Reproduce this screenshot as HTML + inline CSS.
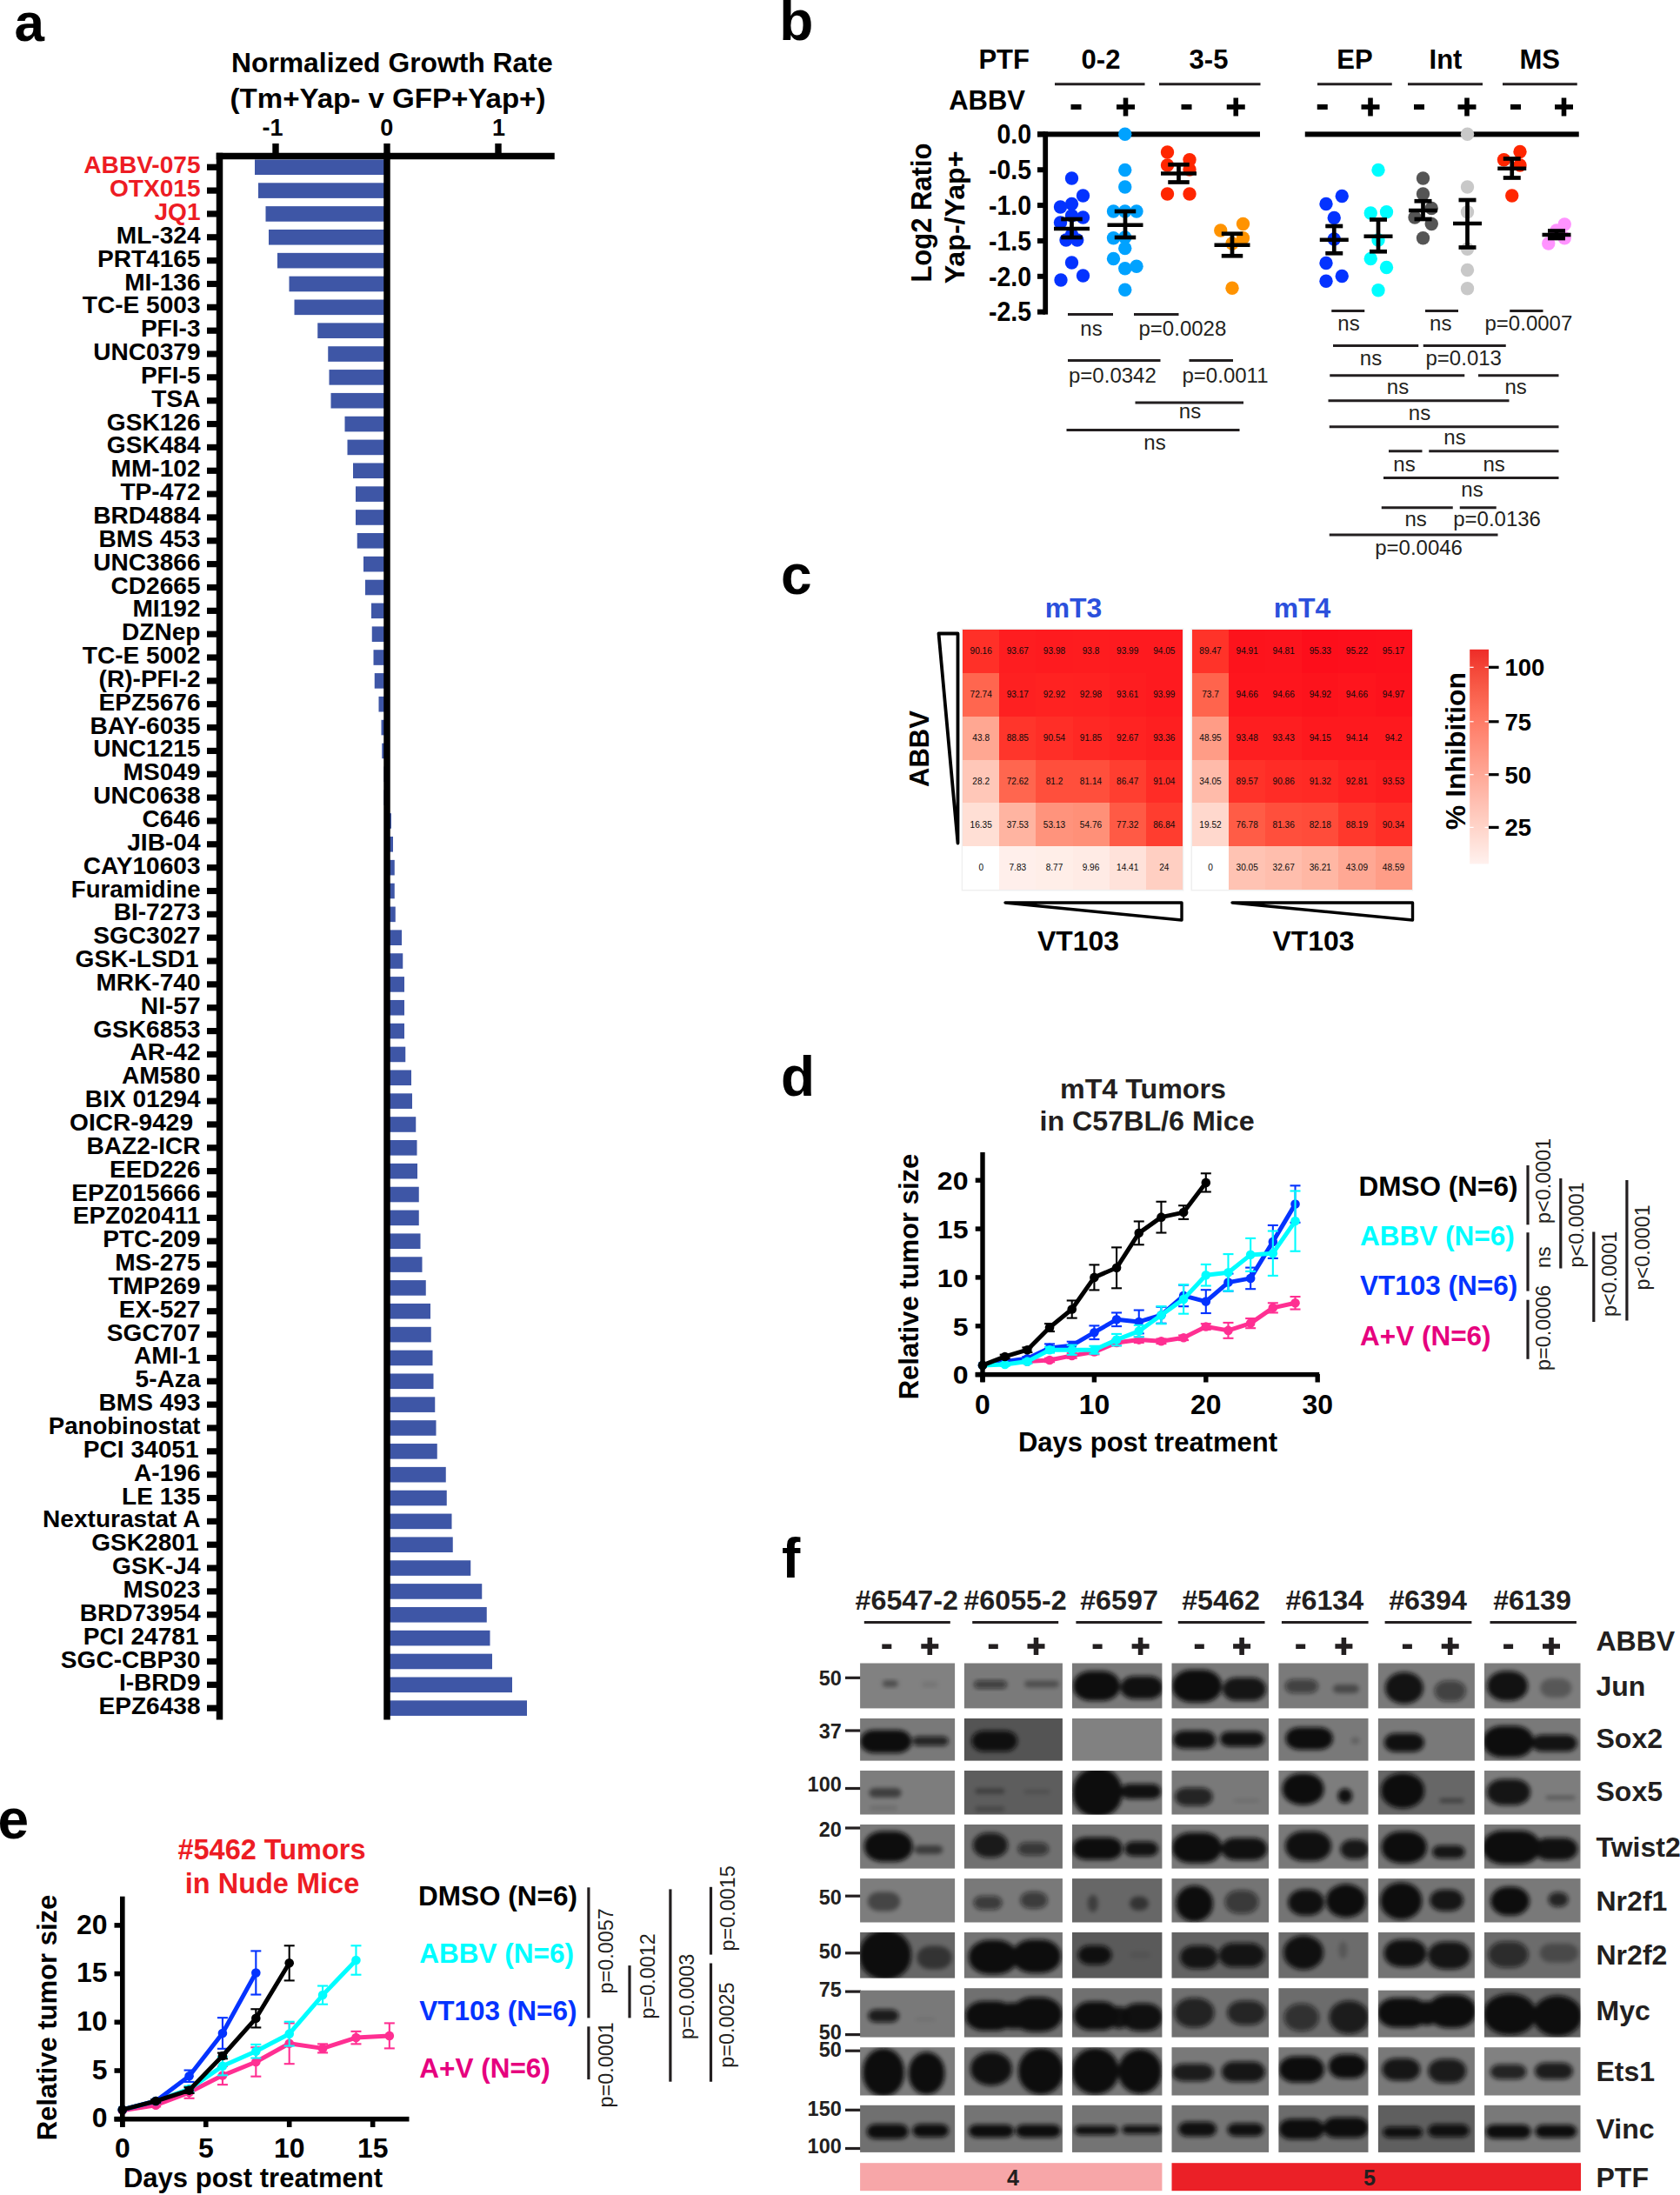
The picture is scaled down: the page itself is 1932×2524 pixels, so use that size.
<!DOCTYPE html>
<html><head><meta charset="utf-8"><title>Figure</title>
<style>html,body{margin:0;padding:0;background:#fff}svg{display:block}text{font-family:'Liberation Sans', Arial, Helvetica, sans-serif}</style>
</head><body>
<svg width="1932" height="2524" viewBox="0 0 1932 2524">
<rect width="1932" height="2524" fill="#fff"/>
<text x="16.5" y="47.0" font-size="62" font-weight="bold">a</text>
<text font-size="31.5" text-anchor="middle" font-weight="bold" transform="translate(450.8 83.3) scale(1.011,1)">Normalized Growth Rate</text>
<text font-size="31.5" text-anchor="middle" font-weight="bold" transform="translate(446.0 124.3) scale(1.05,1)">(Tm+Yap- v GFP+Yap+)</text>
<text x="313.5" y="155.9" font-size="27" text-anchor="middle" font-weight="bold">-1</text>
<text x="444.8" y="155.9" font-size="27" text-anchor="middle" font-weight="bold">0</text>
<text x="573.5" y="155.9" font-size="27" text-anchor="middle" font-weight="bold">1</text>
<rect x="293.00" y="183.45" width="152.00" height="17.60" fill="#3E56A6"/>
<rect x="238.00" y="188.65" width="12.00" height="7.20" fill="#000"/>
<text font-size="27" text-anchor="end" font-weight="bold" fill="#ED1C24" transform="translate(230.5 199.2) scale(1.04,1)">ABBV-075</text>
<rect x="297.00" y="210.30" width="148.00" height="17.60" fill="#3E56A6"/>
<rect x="238.00" y="215.50" width="12.00" height="7.20" fill="#000"/>
<text font-size="27" text-anchor="end" font-weight="bold" fill="#ED1C24" transform="translate(230.5 226.1) scale(1.04,1)">OTX015</text>
<rect x="305.50" y="237.14" width="139.50" height="17.60" fill="#3E56A6"/>
<rect x="238.00" y="242.34" width="12.00" height="7.20" fill="#000"/>
<text font-size="27" text-anchor="end" font-weight="bold" fill="#ED1C24" transform="translate(230.5 252.9) scale(1.04,1)">JQ1</text>
<rect x="309.00" y="263.99" width="136.00" height="17.60" fill="#3E56A6"/>
<rect x="238.00" y="269.19" width="12.00" height="7.20" fill="#000"/>
<text font-size="27" text-anchor="end" font-weight="bold" transform="translate(230.5 279.8) scale(1.04,1)">ML-324</text>
<rect x="319.00" y="290.84" width="126.00" height="17.60" fill="#3E56A6"/>
<rect x="238.00" y="296.04" width="12.00" height="7.20" fill="#000"/>
<text font-size="27" text-anchor="end" font-weight="bold" transform="translate(230.5 306.6) scale(1.04,1)">PRT4165</text>
<rect x="332.50" y="317.69" width="112.50" height="17.60" fill="#3E56A6"/>
<rect x="238.00" y="322.88" width="12.00" height="7.20" fill="#000"/>
<text font-size="27" text-anchor="end" font-weight="bold" transform="translate(230.5 333.5) scale(1.04,1)">MI-136</text>
<rect x="338.50" y="344.53" width="106.50" height="17.60" fill="#3E56A6"/>
<rect x="238.00" y="349.73" width="12.00" height="7.20" fill="#000"/>
<text font-size="27" text-anchor="end" font-weight="bold" transform="translate(230.5 360.3) scale(1.04,1)">TC-E 5003</text>
<rect x="365.25" y="371.38" width="79.75" height="17.60" fill="#3E56A6"/>
<rect x="238.00" y="376.58" width="12.00" height="7.20" fill="#000"/>
<text font-size="27" text-anchor="end" font-weight="bold" transform="translate(230.5 387.2) scale(1.04,1)">PFI-3</text>
<rect x="377.25" y="398.23" width="67.75" height="17.60" fill="#3E56A6"/>
<rect x="238.00" y="403.43" width="12.00" height="7.20" fill="#000"/>
<text font-size="27" text-anchor="end" font-weight="bold" transform="translate(230.5 414.0) scale(1.04,1)">UNC0379</text>
<rect x="378.50" y="425.07" width="66.50" height="17.60" fill="#3E56A6"/>
<rect x="238.00" y="430.27" width="12.00" height="7.20" fill="#000"/>
<text font-size="27" text-anchor="end" font-weight="bold" transform="translate(230.5 440.9) scale(1.04,1)">PFI-5</text>
<rect x="380.50" y="451.92" width="64.50" height="17.60" fill="#3E56A6"/>
<rect x="238.00" y="457.12" width="12.00" height="7.20" fill="#000"/>
<text font-size="27" text-anchor="end" font-weight="bold" transform="translate(230.5 467.7) scale(1.04,1)">TSA</text>
<rect x="396.50" y="478.77" width="48.50" height="17.60" fill="#3E56A6"/>
<rect x="238.00" y="483.97" width="12.00" height="7.20" fill="#000"/>
<text font-size="27" text-anchor="end" font-weight="bold" transform="translate(230.5 494.6) scale(1.04,1)">GSK126</text>
<rect x="399.50" y="505.61" width="45.50" height="17.60" fill="#3E56A6"/>
<rect x="238.00" y="510.81" width="12.00" height="7.20" fill="#000"/>
<text font-size="27" text-anchor="end" font-weight="bold" transform="translate(230.5 521.4) scale(1.04,1)">GSK484</text>
<rect x="406.00" y="532.46" width="39.00" height="17.60" fill="#3E56A6"/>
<rect x="238.00" y="537.66" width="12.00" height="7.20" fill="#000"/>
<text font-size="27" text-anchor="end" font-weight="bold" transform="translate(230.5 548.3) scale(1.04,1)">MM-102</text>
<rect x="409.00" y="559.31" width="36.00" height="17.60" fill="#3E56A6"/>
<rect x="238.00" y="564.51" width="12.00" height="7.20" fill="#000"/>
<text font-size="27" text-anchor="end" font-weight="bold" transform="translate(230.5 575.1) scale(1.04,1)">TP-472</text>
<rect x="409.00" y="586.16" width="36.00" height="17.60" fill="#3E56A6"/>
<rect x="238.00" y="591.36" width="12.00" height="7.20" fill="#000"/>
<text font-size="27" text-anchor="end" font-weight="bold" transform="translate(230.5 602.0) scale(1.04,1)">BRD4884</text>
<rect x="410.75" y="613.00" width="34.25" height="17.60" fill="#3E56A6"/>
<rect x="238.00" y="618.20" width="12.00" height="7.20" fill="#000"/>
<text font-size="27" text-anchor="end" font-weight="bold" transform="translate(230.5 628.8) scale(1.04,1)">BMS 453</text>
<rect x="418.00" y="639.85" width="27.00" height="17.60" fill="#3E56A6"/>
<rect x="238.00" y="645.05" width="12.00" height="7.20" fill="#000"/>
<text font-size="27" text-anchor="end" font-weight="bold" transform="translate(230.5 655.6) scale(1.04,1)">UNC3866</text>
<rect x="420.00" y="666.70" width="25.00" height="17.60" fill="#3E56A6"/>
<rect x="238.00" y="671.90" width="12.00" height="7.20" fill="#000"/>
<text font-size="27" text-anchor="end" font-weight="bold" transform="translate(230.5 682.5) scale(1.04,1)">CD2665</text>
<rect x="427.00" y="693.54" width="18.00" height="17.60" fill="#3E56A6"/>
<rect x="238.00" y="698.74" width="12.00" height="7.20" fill="#000"/>
<text font-size="27" text-anchor="end" font-weight="bold" transform="translate(230.5 709.3) scale(1.04,1)">MI192</text>
<rect x="427.75" y="720.39" width="17.25" height="17.60" fill="#3E56A6"/>
<rect x="238.00" y="725.59" width="12.00" height="7.20" fill="#000"/>
<text font-size="27" text-anchor="end" font-weight="bold" transform="translate(230.5 736.2) scale(1.04,1)">DZNep</text>
<rect x="429.50" y="747.24" width="15.50" height="17.60" fill="#3E56A6"/>
<rect x="238.00" y="752.44" width="12.00" height="7.20" fill="#000"/>
<text font-size="27" text-anchor="end" font-weight="bold" transform="translate(230.5 763.0) scale(1.04,1)">TC-E 5002</text>
<rect x="430.75" y="774.08" width="14.25" height="17.60" fill="#3E56A6"/>
<rect x="238.00" y="779.28" width="12.00" height="7.20" fill="#000"/>
<text font-size="27" text-anchor="end" font-weight="bold" transform="translate(230.5 789.9) scale(1.04,1)">(R)-PFI-2</text>
<rect x="435.50" y="800.93" width="9.50" height="17.60" fill="#3E56A6"/>
<rect x="238.00" y="806.13" width="12.00" height="7.20" fill="#000"/>
<text font-size="27" text-anchor="end" font-weight="bold" transform="translate(230.5 816.7) scale(1.04,1)">EPZ5676</text>
<rect x="438.50" y="827.78" width="6.50" height="17.60" fill="#3E56A6"/>
<rect x="238.00" y="832.98" width="12.00" height="7.20" fill="#000"/>
<text font-size="27" text-anchor="end" font-weight="bold" transform="translate(230.5 843.6) scale(1.04,1)">BAY-6035</text>
<rect x="439.25" y="854.63" width="5.75" height="17.60" fill="#3E56A6"/>
<rect x="238.00" y="859.83" width="12.00" height="7.20" fill="#000"/>
<text font-size="27" text-anchor="end" font-weight="bold" transform="translate(230.5 870.4) scale(1.04,1)">UNC1215</text>
<rect x="441.50" y="881.47" width="3.50" height="17.60" fill="#3E56A6"/>
<rect x="238.00" y="886.67" width="12.00" height="7.20" fill="#000"/>
<text font-size="27" text-anchor="end" font-weight="bold" transform="translate(230.5 897.3) scale(1.04,1)">MS049</text>
<rect x="441.50" y="908.32" width="3.50" height="17.60" fill="#3E56A6"/>
<rect x="238.00" y="913.52" width="12.00" height="7.20" fill="#000"/>
<text font-size="27" text-anchor="end" font-weight="bold" transform="translate(230.5 924.1) scale(1.04,1)">UNC0638</text>
<rect x="445.00" y="935.17" width="5.00" height="17.60" fill="#3E56A6"/>
<rect x="238.00" y="940.37" width="12.00" height="7.20" fill="#000"/>
<text font-size="27" text-anchor="end" font-weight="bold" transform="translate(230.5 951.0) scale(1.04,1)">C646</text>
<rect x="445.00" y="962.01" width="7.00" height="17.60" fill="#3E56A6"/>
<rect x="238.00" y="967.21" width="12.00" height="7.20" fill="#000"/>
<text font-size="27" text-anchor="end" font-weight="bold" transform="translate(230.5 977.8) scale(1.04,1)">JIB-04</text>
<rect x="445.00" y="988.86" width="8.75" height="17.60" fill="#3E56A6"/>
<rect x="238.00" y="994.06" width="12.00" height="7.20" fill="#000"/>
<text font-size="27" text-anchor="end" font-weight="bold" transform="translate(230.5 1004.7) scale(1.04,1)">CAY10603</text>
<rect x="445.00" y="1015.71" width="8.75" height="17.60" fill="#3E56A6"/>
<rect x="238.00" y="1020.91" width="12.00" height="7.20" fill="#000"/>
<text font-size="27" text-anchor="end" font-weight="bold" transform="translate(230.5 1031.5) scale(1.022,1)">Furamidine</text>
<rect x="445.00" y="1042.55" width="9.75" height="17.60" fill="#3E56A6"/>
<rect x="238.00" y="1047.75" width="12.00" height="7.20" fill="#000"/>
<text font-size="27" text-anchor="end" font-weight="bold" transform="translate(230.5 1058.4) scale(1.04,1)">BI-7273</text>
<rect x="445.00" y="1069.40" width="17.00" height="17.60" fill="#3E56A6"/>
<rect x="238.00" y="1074.60" width="12.00" height="7.20" fill="#000"/>
<text font-size="27" text-anchor="end" font-weight="bold" transform="translate(230.5 1085.2) scale(1.04,1)">SGC3027</text>
<rect x="445.00" y="1096.25" width="18.25" height="17.60" fill="#3E56A6"/>
<rect x="238.00" y="1101.45" width="12.00" height="7.20" fill="#000"/>
<text font-size="27" text-anchor="end" font-weight="bold" transform="translate(228.5 1112.0) scale(1.04,1)">GSK-LSD1</text>
<rect x="445.00" y="1123.10" width="20.00" height="17.60" fill="#3E56A6"/>
<rect x="238.00" y="1128.30" width="12.00" height="7.20" fill="#000"/>
<text font-size="27" text-anchor="end" font-weight="bold" transform="translate(230.5 1138.9) scale(1.04,1)">MRK-740</text>
<rect x="445.00" y="1149.94" width="20.00" height="17.60" fill="#3E56A6"/>
<rect x="238.00" y="1155.14" width="12.00" height="7.20" fill="#000"/>
<text font-size="27" text-anchor="end" font-weight="bold" transform="translate(230.5 1165.7) scale(1.04,1)">NI-57</text>
<rect x="445.00" y="1176.79" width="20.00" height="17.60" fill="#3E56A6"/>
<rect x="238.00" y="1181.99" width="12.00" height="7.20" fill="#000"/>
<text font-size="27" text-anchor="end" font-weight="bold" transform="translate(230.5 1192.6) scale(1.04,1)">GSK6853</text>
<rect x="445.00" y="1203.64" width="21.25" height="17.60" fill="#3E56A6"/>
<rect x="238.00" y="1208.84" width="12.00" height="7.20" fill="#000"/>
<text font-size="27" text-anchor="end" font-weight="bold" transform="translate(230.5 1219.4) scale(1.04,1)">AR-42</text>
<rect x="445.00" y="1230.48" width="28.00" height="17.60" fill="#3E56A6"/>
<rect x="238.00" y="1235.68" width="12.00" height="7.20" fill="#000"/>
<text font-size="27" text-anchor="end" font-weight="bold" transform="translate(230.5 1246.3) scale(1.04,1)">AM580</text>
<rect x="445.00" y="1257.33" width="29.00" height="17.60" fill="#3E56A6"/>
<rect x="238.00" y="1262.53" width="12.00" height="7.20" fill="#000"/>
<text font-size="27" text-anchor="end" font-weight="bold" transform="translate(230.5 1273.1) scale(1.04,1)">BIX 01294</text>
<rect x="445.00" y="1284.18" width="33.25" height="17.60" fill="#3E56A6"/>
<rect x="238.00" y="1289.38" width="12.00" height="7.20" fill="#000"/>
<text font-size="27" text-anchor="end" font-weight="bold" transform="translate(222.0 1300.0) scale(1.04,1)">OICR-9429</text>
<rect x="445.00" y="1311.02" width="34.50" height="17.60" fill="#3E56A6"/>
<rect x="238.00" y="1316.22" width="12.00" height="7.20" fill="#000"/>
<text font-size="27" text-anchor="end" font-weight="bold" transform="translate(230.5 1326.8) scale(1.04,1)">BAZ2-ICR</text>
<rect x="445.00" y="1337.87" width="35.00" height="17.60" fill="#3E56A6"/>
<rect x="238.00" y="1343.07" width="12.00" height="7.20" fill="#000"/>
<text font-size="27" text-anchor="end" font-weight="bold" transform="translate(230.5 1353.7) scale(1.04,1)">EED226</text>
<rect x="445.00" y="1364.72" width="36.75" height="17.60" fill="#3E56A6"/>
<rect x="238.00" y="1369.92" width="12.00" height="7.20" fill="#000"/>
<text font-size="27" text-anchor="end" font-weight="bold" transform="translate(230.5 1380.5) scale(1.04,1)">EPZ015666</text>
<rect x="445.00" y="1391.57" width="36.75" height="17.60" fill="#3E56A6"/>
<rect x="238.00" y="1396.77" width="12.00" height="7.20" fill="#000"/>
<text font-size="27" text-anchor="end" font-weight="bold" transform="translate(230.5 1407.4) scale(1.04,1)">EPZ020411</text>
<rect x="445.00" y="1418.41" width="38.50" height="17.60" fill="#3E56A6"/>
<rect x="238.00" y="1423.61" width="12.00" height="7.20" fill="#000"/>
<text font-size="27" text-anchor="end" font-weight="bold" transform="translate(230.5 1434.2) scale(1.04,1)">PTC-209</text>
<rect x="445.00" y="1445.26" width="40.50" height="17.60" fill="#3E56A6"/>
<rect x="238.00" y="1450.46" width="12.00" height="7.20" fill="#000"/>
<text font-size="27" text-anchor="end" font-weight="bold" transform="translate(230.5 1461.1) scale(1.04,1)">MS-275</text>
<rect x="445.00" y="1472.11" width="44.75" height="17.60" fill="#3E56A6"/>
<rect x="238.00" y="1477.31" width="12.00" height="7.20" fill="#000"/>
<text font-size="27" text-anchor="end" font-weight="bold" transform="translate(230.5 1487.9) scale(1.04,1)">TMP269</text>
<rect x="445.00" y="1498.95" width="50.00" height="17.60" fill="#3E56A6"/>
<rect x="238.00" y="1504.15" width="12.00" height="7.20" fill="#000"/>
<text font-size="27" text-anchor="end" font-weight="bold" transform="translate(230.5 1514.8) scale(1.04,1)">EX-527</text>
<rect x="445.00" y="1525.80" width="50.75" height="17.60" fill="#3E56A6"/>
<rect x="238.00" y="1531.00" width="12.00" height="7.20" fill="#000"/>
<text font-size="27" text-anchor="end" font-weight="bold" transform="translate(230.5 1541.6) scale(1.04,1)">SGC707</text>
<rect x="445.00" y="1552.65" width="52.50" height="17.60" fill="#3E56A6"/>
<rect x="238.00" y="1557.85" width="12.00" height="7.20" fill="#000"/>
<text font-size="27" text-anchor="end" font-weight="bold" transform="translate(230.5 1568.4) scale(1.04,1)">AMI-1</text>
<rect x="445.00" y="1579.49" width="53.50" height="17.60" fill="#3E56A6"/>
<rect x="238.00" y="1584.69" width="12.00" height="7.20" fill="#000"/>
<text font-size="27" text-anchor="end" font-weight="bold" transform="translate(230.5 1595.3) scale(1.04,1)">5-Aza</text>
<rect x="445.00" y="1606.34" width="55.25" height="17.60" fill="#3E56A6"/>
<rect x="238.00" y="1611.54" width="12.00" height="7.20" fill="#000"/>
<text font-size="27" text-anchor="end" font-weight="bold" transform="translate(230.5 1622.1) scale(1.04,1)">BMS 493</text>
<rect x="445.00" y="1633.19" width="56.50" height="17.60" fill="#3E56A6"/>
<rect x="238.00" y="1638.39" width="12.00" height="7.20" fill="#000"/>
<text font-size="27" text-anchor="end" font-weight="bold" transform="translate(230.5 1649.0) scale(1.022,1)">Panobinostat</text>
<rect x="445.00" y="1660.04" width="57.75" height="17.60" fill="#3E56A6"/>
<rect x="238.00" y="1665.24" width="12.00" height="7.20" fill="#000"/>
<text font-size="27" text-anchor="end" font-weight="bold" transform="translate(228.5 1675.8) scale(1.04,1)">PCI 34051</text>
<rect x="445.00" y="1686.88" width="67.75" height="17.60" fill="#3E56A6"/>
<rect x="238.00" y="1692.08" width="12.00" height="7.20" fill="#000"/>
<text font-size="27" text-anchor="end" font-weight="bold" transform="translate(230.5 1702.7) scale(1.04,1)">A-196</text>
<rect x="445.00" y="1713.73" width="68.75" height="17.60" fill="#3E56A6"/>
<rect x="238.00" y="1718.93" width="12.00" height="7.20" fill="#000"/>
<text font-size="27" text-anchor="end" font-weight="bold" transform="translate(230.5 1729.5) scale(1.04,1)">LE 135</text>
<rect x="445.00" y="1740.58" width="74.50" height="17.60" fill="#3E56A6"/>
<rect x="238.00" y="1745.78" width="12.00" height="7.20" fill="#000"/>
<text font-size="27" text-anchor="end" font-weight="bold" transform="translate(230.5 1756.4) scale(1.04,1)">Nexturastat A</text>
<rect x="445.00" y="1767.42" width="75.75" height="17.60" fill="#3E56A6"/>
<rect x="238.00" y="1772.62" width="12.00" height="7.20" fill="#000"/>
<text font-size="27" text-anchor="end" font-weight="bold" transform="translate(228.5 1783.2) scale(1.04,1)">GSK2801</text>
<rect x="445.00" y="1794.27" width="96.25" height="17.60" fill="#3E56A6"/>
<rect x="238.00" y="1799.47" width="12.00" height="7.20" fill="#000"/>
<text font-size="27" text-anchor="end" font-weight="bold" transform="translate(230.5 1810.1) scale(1.04,1)">GSK-J4</text>
<rect x="445.00" y="1821.12" width="109.25" height="17.60" fill="#3E56A6"/>
<rect x="238.00" y="1826.32" width="12.00" height="7.20" fill="#000"/>
<text font-size="27" text-anchor="end" font-weight="bold" transform="translate(230.5 1836.9) scale(1.04,1)">MS023</text>
<rect x="445.00" y="1847.96" width="114.75" height="17.60" fill="#3E56A6"/>
<rect x="238.00" y="1853.16" width="12.00" height="7.20" fill="#000"/>
<text font-size="27" text-anchor="end" font-weight="bold" transform="translate(230.5 1863.8) scale(1.04,1)">BRD73954</text>
<rect x="445.00" y="1874.81" width="118.50" height="17.60" fill="#3E56A6"/>
<rect x="238.00" y="1880.01" width="12.00" height="7.20" fill="#000"/>
<text font-size="27" text-anchor="end" font-weight="bold" transform="translate(228.5 1890.6) scale(1.04,1)">PCI 24781</text>
<rect x="445.00" y="1901.66" width="121.00" height="17.60" fill="#3E56A6"/>
<rect x="238.00" y="1906.86" width="12.00" height="7.20" fill="#000"/>
<text font-size="27" text-anchor="end" font-weight="bold" transform="translate(230.5 1917.5) scale(1.04,1)">SGC-CBP30</text>
<rect x="445.00" y="1928.51" width="144.00" height="17.60" fill="#3E56A6"/>
<rect x="238.00" y="1933.71" width="12.00" height="7.20" fill="#000"/>
<text font-size="27" text-anchor="end" font-weight="bold" transform="translate(230.5 1944.3) scale(1.04,1)">I-BRD9</text>
<rect x="445.00" y="1955.35" width="161.00" height="17.60" fill="#3E56A6"/>
<rect x="238.00" y="1960.55" width="12.00" height="7.20" fill="#000"/>
<text font-size="27" text-anchor="end" font-weight="bold" transform="translate(230.5 1971.2) scale(1.04,1)">EPZ6438</text>
<rect x="248.75" y="175.75" width="389.00" height="7.50" fill="#000"/>
<rect x="248.75" y="175.75" width="7.50" height="1801.75" fill="#000"/>
<rect x="441.25" y="175.75" width="7.50" height="1801.75" fill="#000"/>
<rect x="313.30" y="165.00" width="7.40" height="12.00" fill="#000"/>
<rect x="441.30" y="165.00" width="7.40" height="12.00" fill="#000"/>
<rect x="569.30" y="165.00" width="7.40" height="12.00" fill="#000"/>
<text x="896.3" y="46.3" font-size="64" font-weight="bold">b</text>
<text x="1184.0" y="78.5" font-size="31" text-anchor="end" font-weight="bold">PTF</text>
<text x="1179.0" y="126.0" font-size="31" text-anchor="end" font-weight="bold">ABBV</text>
<text x="1266.0" y="78.5" font-size="31" text-anchor="middle" font-weight="bold">0-2</text>
<text x="1390.0" y="78.5" font-size="31" text-anchor="middle" font-weight="bold">3-5</text>
<line x1="1213.00" y1="96.75" x2="1316.50" y2="96.75" stroke="#231F20" stroke-width="3"/>
<line x1="1333.00" y1="96.75" x2="1449.50" y2="96.75" stroke="#231F20" stroke-width="3"/>
<rect x="1231.50" y="120.00" width="12.00" height="6.00" fill="#000"/>
<rect x="1358.50" y="120.00" width="12.00" height="6.00" fill="#000"/>
<rect x="1284.00" y="120.20" width="21.00" height="5.60" fill="#000"/><rect x="1291.70" y="112.50" width="5.60" height="21.00" fill="#000"/>
<rect x="1410.75" y="120.20" width="21.00" height="5.60" fill="#000"/><rect x="1418.45" y="112.50" width="5.60" height="21.00" fill="#000"/>
<text x="1558.0" y="78.5" font-size="31" text-anchor="middle" font-weight="bold">EP</text>
<line x1="1515.00" y1="96.75" x2="1600.75" y2="96.75" stroke="#231F20" stroke-width="3"/>
<text x="1662.5" y="78.5" font-size="31" text-anchor="middle" font-weight="bold">Int</text>
<line x1="1619.00" y1="96.75" x2="1705.00" y2="96.75" stroke="#231F20" stroke-width="3"/>
<text x="1770.8" y="78.5" font-size="31" text-anchor="middle" font-weight="bold">MS</text>
<line x1="1728.00" y1="96.75" x2="1813.75" y2="96.75" stroke="#231F20" stroke-width="3"/>
<rect x="1514.75" y="120.00" width="12.00" height="6.00" fill="#000"/>
<rect x="1626.00" y="120.00" width="12.00" height="6.00" fill="#000"/>
<rect x="1737.00" y="120.00" width="12.00" height="6.00" fill="#000"/>
<rect x="1565.50" y="120.20" width="21.00" height="5.60" fill="#000"/><rect x="1573.20" y="112.50" width="5.60" height="21.00" fill="#000"/>
<rect x="1676.50" y="120.20" width="21.00" height="5.60" fill="#000"/><rect x="1684.20" y="112.50" width="5.60" height="21.00" fill="#000"/>
<rect x="1788.00" y="120.20" width="21.00" height="5.60" fill="#000"/><rect x="1795.70" y="112.50" width="5.60" height="21.00" fill="#000"/>
<text font-size="32.6" text-anchor="middle" font-weight="bold" transform="translate(1070.5 244.6) rotate(-90) scale(0.95,1)">Log2 Ratio</text>
<text font-size="32" text-anchor="middle" font-weight="bold" transform="translate(1108.6 249.9) rotate(-90) scale(1.005,1)">Yap-/Yap+</text>
<text font-size="31.5" text-anchor="end" font-weight="bold" transform="translate(1186.0 165.2) scale(0.905,1)">0.0</text>
<rect x="1193.00" y="151.40" width="9.00" height="6.00" fill="#000"/>
<text font-size="31.5" text-anchor="end" font-weight="bold" transform="translate(1186.0 206.1) scale(0.905,1)">-0.5</text>
<rect x="1193.00" y="192.25" width="9.00" height="6.00" fill="#000"/>
<text font-size="31.5" text-anchor="end" font-weight="bold" transform="translate(1186.0 246.9) scale(0.905,1)">-1.0</text>
<rect x="1193.00" y="233.10" width="9.00" height="6.00" fill="#000"/>
<text font-size="31.5" text-anchor="end" font-weight="bold" transform="translate(1186.0 287.8) scale(0.905,1)">-1.5</text>
<rect x="1193.00" y="273.95" width="9.00" height="6.00" fill="#000"/>
<text font-size="31.5" text-anchor="end" font-weight="bold" transform="translate(1186.0 328.6) scale(0.905,1)">-2.0</text>
<rect x="1193.00" y="314.80" width="9.00" height="6.00" fill="#000"/>
<text font-size="31.5" text-anchor="end" font-weight="bold" transform="translate(1186.0 369.4) scale(0.905,1)">-2.5</text>
<rect x="1193.00" y="355.65" width="9.00" height="6.00" fill="#000"/>
<rect x="1193.00" y="151.40" width="256.00" height="6.00" fill="#000"/>
<rect x="1199.30" y="151.40" width="5.80" height="210.20" fill="#000"/>
<circle cx="1232.50" cy="205.00" r="7.7" fill="#0433FF"/>
<circle cx="1245.50" cy="225.00" r="7.7" fill="#0433FF"/>
<circle cx="1232.50" cy="234.50" r="7.7" fill="#0433FF"/>
<circle cx="1219.50" cy="238.00" r="7.7" fill="#0433FF"/>
<circle cx="1245.50" cy="250.00" r="7.7" fill="#0433FF"/>
<circle cx="1232.50" cy="248.00" r="7.7" fill="#0433FF"/>
<circle cx="1219.50" cy="256.00" r="7.7" fill="#0433FF"/>
<circle cx="1232.50" cy="270.00" r="7.7" fill="#0433FF"/>
<circle cx="1226.00" cy="276.00" r="7.7" fill="#0433FF"/>
<circle cx="1238.75" cy="276.00" r="7.7" fill="#0433FF"/>
<circle cx="1232.50" cy="302.00" r="7.7" fill="#0433FF"/>
<circle cx="1245.50" cy="317.00" r="7.7" fill="#0433FF"/>
<circle cx="1220.00" cy="322.00" r="7.7" fill="#0433FF"/>
<circle cx="1293.75" cy="154.25" r="7.7" fill="#00A2FF"/>
<circle cx="1293.75" cy="195.50" r="7.7" fill="#00A2FF"/>
<circle cx="1293.75" cy="215.00" r="7.7" fill="#00A2FF"/>
<circle cx="1280.50" cy="243.00" r="7.7" fill="#00A2FF"/>
<circle cx="1307.00" cy="243.00" r="7.7" fill="#00A2FF"/>
<circle cx="1293.75" cy="243.00" r="7.7" fill="#00A2FF"/>
<circle cx="1280.50" cy="273.75" r="7.7" fill="#00A2FF"/>
<circle cx="1293.75" cy="273.00" r="7.7" fill="#00A2FF"/>
<circle cx="1293.75" cy="285.50" r="7.7" fill="#00A2FF"/>
<circle cx="1280.50" cy="297.50" r="7.7" fill="#00A2FF"/>
<circle cx="1307.00" cy="306.25" r="7.7" fill="#00A2FF"/>
<circle cx="1293.75" cy="308.75" r="7.7" fill="#00A2FF"/>
<circle cx="1293.75" cy="333.25" r="7.7" fill="#00A2FF"/>
<circle cx="1342.50" cy="175.00" r="7.7" fill="#FF2600"/>
<circle cx="1368.00" cy="183.75" r="7.7" fill="#FF2600"/>
<circle cx="1342.50" cy="190.00" r="7.7" fill="#FF2600"/>
<circle cx="1368.00" cy="195.00" r="7.7" fill="#FF2600"/>
<circle cx="1342.50" cy="223.00" r="7.7" fill="#FF2600"/>
<circle cx="1368.00" cy="223.00" r="7.7" fill="#FF2600"/>
<circle cx="1429.50" cy="257.50" r="7.7" fill="#FF9300"/>
<circle cx="1403.75" cy="265.00" r="7.7" fill="#FF9300"/>
<circle cx="1429.50" cy="273.75" r="7.7" fill="#FF9300"/>
<circle cx="1417.00" cy="280.00" r="7.7" fill="#FF9300"/>
<circle cx="1417.00" cy="331.25" r="7.7" fill="#FF9300"/>
<line x1="1212.00" y1="263.00" x2="1253.00" y2="263.00" stroke="#000" stroke-width="4.7"/>
<line x1="1232.50" y1="252.00" x2="1232.50" y2="273.00" stroke="#000" stroke-width="4.7"/>
<line x1="1220.25" y1="252.00" x2="1244.75" y2="252.00" stroke="#000" stroke-width="4.7"/>
<line x1="1220.25" y1="273.00" x2="1244.75" y2="273.00" stroke="#000" stroke-width="4.7"/>
<line x1="1273.50" y1="258.75" x2="1314.50" y2="258.75" stroke="#000" stroke-width="4.7"/>
<line x1="1294.00" y1="243.00" x2="1294.00" y2="273.00" stroke="#000" stroke-width="4.7"/>
<line x1="1281.75" y1="243.00" x2="1306.25" y2="243.00" stroke="#000" stroke-width="4.7"/>
<line x1="1281.75" y1="273.00" x2="1306.25" y2="273.00" stroke="#000" stroke-width="4.7"/>
<line x1="1335.00" y1="199.50" x2="1376.00" y2="199.50" stroke="#000" stroke-width="4.7"/>
<line x1="1355.50" y1="189.25" x2="1355.50" y2="209.50" stroke="#000" stroke-width="4.7"/>
<line x1="1343.25" y1="189.25" x2="1367.75" y2="189.25" stroke="#000" stroke-width="4.7"/>
<line x1="1343.25" y1="209.50" x2="1367.75" y2="209.50" stroke="#000" stroke-width="4.7"/>
<line x1="1396.50" y1="281.75" x2="1437.50" y2="281.75" stroke="#000" stroke-width="4.7"/>
<line x1="1417.00" y1="268.75" x2="1417.00" y2="294.25" stroke="#000" stroke-width="4.7"/>
<line x1="1404.75" y1="268.75" x2="1429.25" y2="268.75" stroke="#000" stroke-width="4.7"/>
<line x1="1404.75" y1="294.25" x2="1429.25" y2="294.25" stroke="#000" stroke-width="4.7"/>
<rect x="1500.75" y="151.40" width="315.00" height="6.00" fill="#000"/>
<circle cx="1543.25" cy="225.50" r="7.7" fill="#0433FF"/>
<circle cx="1525.00" cy="234.50" r="7.7" fill="#0433FF"/>
<circle cx="1534.25" cy="250.50" r="7.7" fill="#0433FF"/>
<circle cx="1534.25" cy="275.00" r="7.7" fill="#0433FF"/>
<circle cx="1525.00" cy="302.50" r="7.7" fill="#0433FF"/>
<circle cx="1543.25" cy="317.50" r="7.7" fill="#0433FF"/>
<circle cx="1525.00" cy="323.25" r="7.7" fill="#0433FF"/>
<circle cx="1585.00" cy="195.50" r="7.7" fill="#00FDFF"/>
<circle cx="1576.25" cy="245.00" r="7.7" fill="#00FDFF"/>
<circle cx="1594.50" cy="243.75" r="7.7" fill="#00FDFF"/>
<circle cx="1585.00" cy="276.00" r="7.7" fill="#00FDFF"/>
<circle cx="1576.25" cy="297.50" r="7.7" fill="#00FDFF"/>
<circle cx="1594.50" cy="307.50" r="7.7" fill="#00FDFF"/>
<circle cx="1585.00" cy="333.75" r="7.7" fill="#00FDFF"/>
<circle cx="1636.50" cy="205.00" r="7.7" fill="#555555"/>
<circle cx="1636.50" cy="223.00" r="7.7" fill="#555555"/>
<circle cx="1646.25" cy="239.50" r="7.7" fill="#555555"/>
<circle cx="1627.00" cy="250.00" r="7.7" fill="#555555"/>
<circle cx="1646.25" cy="257.50" r="7.7" fill="#555555"/>
<circle cx="1636.50" cy="273.75" r="7.7" fill="#555555"/>
<circle cx="1687.50" cy="154.25" r="7.7" fill="#C8C8C8"/>
<circle cx="1687.50" cy="215.00" r="7.7" fill="#C8C8C8"/>
<circle cx="1687.50" cy="243.75" r="7.7" fill="#C8C8C8"/>
<circle cx="1687.50" cy="286.25" r="7.7" fill="#C8C8C8"/>
<circle cx="1687.50" cy="310.50" r="7.7" fill="#C8C8C8"/>
<circle cx="1687.50" cy="331.75" r="7.7" fill="#C8C8C8"/>
<circle cx="1748.00" cy="174.50" r="7.7" fill="#FF2600"/>
<circle cx="1729.50" cy="183.75" r="7.7" fill="#FF2600"/>
<circle cx="1748.00" cy="190.00" r="7.7" fill="#FF2600"/>
<circle cx="1738.75" cy="225.00" r="7.7" fill="#FF2600"/>
<circle cx="1799.25" cy="258.00" r="7.7" fill="#FF93FF"/>
<circle cx="1790.00" cy="265.00" r="7.7" fill="#FF93FF"/>
<circle cx="1799.25" cy="273.75" r="7.7" fill="#FF93FF"/>
<circle cx="1780.75" cy="280.00" r="7.7" fill="#FF93FF"/>
<line x1="1517.75" y1="275.75" x2="1550.75" y2="275.75" stroke="#000" stroke-width="4.7"/>
<line x1="1534.25" y1="260.00" x2="1534.25" y2="291.25" stroke="#000" stroke-width="4.7"/>
<line x1="1524.25" y1="260.00" x2="1544.25" y2="260.00" stroke="#000" stroke-width="4.7"/>
<line x1="1524.25" y1="291.25" x2="1544.25" y2="291.25" stroke="#000" stroke-width="4.7"/>
<line x1="1568.50" y1="271.75" x2="1601.50" y2="271.75" stroke="#000" stroke-width="4.7"/>
<line x1="1585.00" y1="252.50" x2="1585.00" y2="289.25" stroke="#000" stroke-width="4.7"/>
<line x1="1575.00" y1="252.50" x2="1595.00" y2="252.50" stroke="#000" stroke-width="4.7"/>
<line x1="1575.00" y1="289.25" x2="1595.00" y2="289.25" stroke="#000" stroke-width="4.7"/>
<line x1="1620.00" y1="242.00" x2="1653.00" y2="242.00" stroke="#000" stroke-width="4.7"/>
<line x1="1636.50" y1="231.25" x2="1636.50" y2="252.00" stroke="#000" stroke-width="4.7"/>
<line x1="1626.50" y1="231.25" x2="1646.50" y2="231.25" stroke="#000" stroke-width="4.7"/>
<line x1="1626.50" y1="252.00" x2="1646.50" y2="252.00" stroke="#000" stroke-width="4.7"/>
<line x1="1671.00" y1="257.00" x2="1704.00" y2="257.00" stroke="#000" stroke-width="4.7"/>
<line x1="1687.50" y1="230.00" x2="1687.50" y2="284.50" stroke="#000" stroke-width="4.7"/>
<line x1="1677.50" y1="230.00" x2="1697.50" y2="230.00" stroke="#000" stroke-width="4.7"/>
<line x1="1677.50" y1="284.50" x2="1697.50" y2="284.50" stroke="#000" stroke-width="4.7"/>
<line x1="1722.25" y1="193.75" x2="1755.25" y2="193.75" stroke="#000" stroke-width="4.7"/>
<line x1="1738.75" y1="182.50" x2="1738.75" y2="204.50" stroke="#000" stroke-width="4.7"/>
<line x1="1728.75" y1="182.50" x2="1748.75" y2="182.50" stroke="#000" stroke-width="4.7"/>
<line x1="1728.75" y1="204.50" x2="1748.75" y2="204.50" stroke="#000" stroke-width="4.7"/>
<line x1="1773.50" y1="270.00" x2="1806.50" y2="270.00" stroke="#000" stroke-width="4.7"/>
<line x1="1790.00" y1="265.50" x2="1790.00" y2="274.00" stroke="#000" stroke-width="4.7"/>
<line x1="1780.00" y1="265.50" x2="1800.00" y2="265.50" stroke="#000" stroke-width="4.7"/>
<line x1="1780.00" y1="274.00" x2="1800.00" y2="274.00" stroke="#000" stroke-width="4.7"/>
<line x1="1228.00" y1="361.50" x2="1280.00" y2="361.50" stroke="#231F20" stroke-width="3"/>
<line x1="1304.00" y1="361.50" x2="1355.50" y2="361.50" stroke="#231F20" stroke-width="3"/>
<text x="1255.0" y="386.0" font-size="24" text-anchor="middle" fill="#231F20">ns</text>
<text x="1309.5" y="386.0" font-size="24" fill="#231F20">p=0.0028</text>
<line x1="1228.00" y1="414.50" x2="1334.50" y2="414.50" stroke="#231F20" stroke-width="3"/>
<line x1="1367.50" y1="414.50" x2="1418.00" y2="414.50" stroke="#231F20" stroke-width="3"/>
<text x="1229.0" y="440.0" font-size="24" fill="#231F20">p=0.0342</text>
<text x="1359.5" y="440.0" font-size="24" fill="#231F20">p=0.0011</text>
<line x1="1305.50" y1="463.00" x2="1430.00" y2="463.00" stroke="#231F20" stroke-width="3"/>
<text x="1368.5" y="481.0" font-size="24" text-anchor="middle" fill="#231F20">ns</text>
<line x1="1226.50" y1="494.50" x2="1425.50" y2="494.50" stroke="#231F20" stroke-width="3"/>
<text x="1328.0" y="516.5" font-size="24" text-anchor="middle" fill="#231F20">ns</text>
<line x1="1531.25" y1="357.50" x2="1569.25" y2="357.50" stroke="#231F20" stroke-width="3"/>
<line x1="1639.00" y1="357.50" x2="1677.00" y2="357.50" stroke="#231F20" stroke-width="3"/>
<line x1="1736.25" y1="357.50" x2="1774.50" y2="357.50" stroke="#231F20" stroke-width="3"/>
<text x="1551.0" y="380.0" font-size="24" text-anchor="middle" fill="#231F20">ns</text>
<text x="1656.8" y="380.0" font-size="24" text-anchor="middle" fill="#231F20">ns</text>
<text x="1707.5" y="380.0" font-size="24" fill="#231F20">p=0.0007</text>
<line x1="1533.00" y1="397.50" x2="1631.25" y2="397.50" stroke="#231F20" stroke-width="3"/>
<line x1="1636.75" y1="397.50" x2="1731.75" y2="397.50" stroke="#231F20" stroke-width="3"/>
<text x="1576.5" y="419.5" font-size="24" text-anchor="middle" fill="#231F20">ns</text>
<text x="1639.5" y="419.5" font-size="24" fill="#231F20">p=0.013</text>
<line x1="1529.25" y1="431.75" x2="1684.25" y2="431.75" stroke="#231F20" stroke-width="3"/>
<line x1="1700.00" y1="431.75" x2="1792.50" y2="431.75" stroke="#231F20" stroke-width="3"/>
<text x="1607.5" y="453.0" font-size="24" text-anchor="middle" fill="#231F20">ns</text>
<text x="1743.2" y="453.0" font-size="24" text-anchor="middle" fill="#231F20">ns</text>
<line x1="1527.50" y1="460.75" x2="1735.50" y2="460.75" stroke="#231F20" stroke-width="3"/>
<text x="1632.5" y="482.5" font-size="24" text-anchor="middle" fill="#231F20">ns</text>
<line x1="1528.75" y1="490.75" x2="1792.50" y2="490.75" stroke="#231F20" stroke-width="3"/>
<text x="1673.0" y="510.5" font-size="24" text-anchor="middle" fill="#231F20">ns</text>
<line x1="1597.00" y1="518.75" x2="1635.50" y2="518.75" stroke="#231F20" stroke-width="3"/>
<line x1="1643.25" y1="518.75" x2="1792.50" y2="518.75" stroke="#231F20" stroke-width="3"/>
<text x="1615.0" y="542.0" font-size="24" text-anchor="middle" fill="#231F20">ns</text>
<text x="1718.2" y="542.0" font-size="24" text-anchor="middle" fill="#231F20">ns</text>
<line x1="1591.00" y1="549.50" x2="1792.50" y2="549.50" stroke="#231F20" stroke-width="3"/>
<text x="1693.0" y="570.8" font-size="24" text-anchor="middle" fill="#231F20">ns</text>
<line x1="1588.75" y1="583.75" x2="1670.75" y2="583.75" stroke="#231F20" stroke-width="3"/>
<line x1="1678.75" y1="583.75" x2="1720.75" y2="583.75" stroke="#231F20" stroke-width="3"/>
<text x="1628.2" y="605.0" font-size="24" text-anchor="middle" fill="#231F20">ns</text>
<text x="1671.2" y="605.0" font-size="24" fill="#231F20">p=0.0136</text>
<line x1="1528.75" y1="615.00" x2="1722.50" y2="615.00" stroke="#231F20" stroke-width="3"/>
<text x="1581.2" y="637.5" font-size="24" fill="#231F20">p=0.0046</text>
<text x="898.0" y="683.3" font-size="64" font-weight="bold">c</text>
<text font-size="31" text-anchor="middle" font-weight="bold" fill="#2B50DC" transform="translate(1234.5 709.5) scale(1.03,1)">mT3</text>
<text font-size="31" text-anchor="middle" font-weight="bold" fill="#2B50DC" transform="translate(1497.5 709.5) scale(1.03,1)">mT4</text>
<rect x="1105.70" y="722.60" width="255.60" height="301.80" fill="#EFEFEF"/>
<rect x="1107.20" y="724.10" width="42.60" height="50.30" fill="#FF3028" shape-rendering="crispEdges"/>
<text x="1128.2" y="752.3" font-size="10.1" text-anchor="middle" fill="#0a0a0a">90.16</text>
<rect x="1149.30" y="724.10" width="42.60" height="50.30" fill="#FE1D20" shape-rendering="crispEdges"/>
<text x="1170.3" y="752.3" font-size="10.1" text-anchor="middle" fill="#0a0a0a">93.67</text>
<rect x="1191.40" y="724.10" width="42.60" height="50.30" fill="#FE1B1F" shape-rendering="crispEdges"/>
<text x="1212.5" y="752.3" font-size="10.1" text-anchor="middle" fill="#0a0a0a">93.98</text>
<rect x="1233.50" y="724.10" width="42.60" height="50.30" fill="#FE1C1F" shape-rendering="crispEdges"/>
<text x="1254.5" y="752.3" font-size="10.1" text-anchor="middle" fill="#0a0a0a">93.8</text>
<rect x="1275.60" y="724.10" width="42.60" height="50.30" fill="#FE1A1F" shape-rendering="crispEdges"/>
<text x="1296.7" y="752.3" font-size="10.1" text-anchor="middle" fill="#0a0a0a">93.99</text>
<rect x="1317.70" y="724.10" width="42.60" height="50.30" fill="#FE1A1F" shape-rendering="crispEdges"/>
<text x="1338.8" y="752.3" font-size="10.1" text-anchor="middle" fill="#0a0a0a">94.05</text>
<rect x="1107.20" y="773.90" width="42.60" height="50.30" fill="#FF664F" shape-rendering="crispEdges"/>
<text x="1128.2" y="802.1" font-size="10.1" text-anchor="middle" fill="#0a0a0a">72.74</text>
<rect x="1149.30" y="773.90" width="42.60" height="50.30" fill="#FE2021" shape-rendering="crispEdges"/>
<text x="1170.3" y="802.1" font-size="10.1" text-anchor="middle" fill="#0a0a0a">93.17</text>
<rect x="1191.40" y="773.90" width="42.60" height="50.30" fill="#FF2221" shape-rendering="crispEdges"/>
<text x="1212.5" y="802.1" font-size="10.1" text-anchor="middle" fill="#0a0a0a">92.92</text>
<rect x="1233.50" y="773.90" width="42.60" height="50.30" fill="#FF2121" shape-rendering="crispEdges"/>
<text x="1254.5" y="802.1" font-size="10.1" text-anchor="middle" fill="#0a0a0a">92.98</text>
<rect x="1275.60" y="773.90" width="42.60" height="50.30" fill="#FE1D20" shape-rendering="crispEdges"/>
<text x="1296.7" y="802.1" font-size="10.1" text-anchor="middle" fill="#0a0a0a">93.61</text>
<rect x="1317.70" y="773.90" width="42.60" height="50.30" fill="#FE1A1F" shape-rendering="crispEdges"/>
<text x="1338.8" y="802.1" font-size="10.1" text-anchor="middle" fill="#0a0a0a">93.99</text>
<rect x="1107.20" y="823.70" width="42.60" height="50.30" fill="#FFA792" shape-rendering="crispEdges"/>
<text x="1128.2" y="851.9" font-size="10.1" text-anchor="middle" fill="#0a0a0a">43.8</text>
<rect x="1149.30" y="823.70" width="42.60" height="50.30" fill="#FF352B" shape-rendering="crispEdges"/>
<text x="1170.3" y="851.9" font-size="10.1" text-anchor="middle" fill="#0a0a0a">88.85</text>
<rect x="1191.40" y="823.70" width="42.60" height="50.30" fill="#FF2E27" shape-rendering="crispEdges"/>
<text x="1212.5" y="851.9" font-size="10.1" text-anchor="middle" fill="#0a0a0a">90.54</text>
<rect x="1233.50" y="823.70" width="42.60" height="50.30" fill="#FF2824" shape-rendering="crispEdges"/>
<text x="1254.5" y="851.9" font-size="10.1" text-anchor="middle" fill="#0a0a0a">91.85</text>
<rect x="1275.60" y="823.70" width="42.60" height="50.30" fill="#FF2322" shape-rendering="crispEdges"/>
<text x="1296.7" y="851.9" font-size="10.1" text-anchor="middle" fill="#0a0a0a">92.67</text>
<rect x="1317.70" y="823.70" width="42.60" height="50.30" fill="#FE1F20" shape-rendering="crispEdges"/>
<text x="1338.8" y="851.9" font-size="10.1" text-anchor="middle" fill="#0a0a0a">93.36</text>
<rect x="1107.20" y="873.50" width="42.60" height="50.30" fill="#FFC7B8" shape-rendering="crispEdges"/>
<text x="1128.2" y="901.7" font-size="10.1" text-anchor="middle" fill="#0a0a0a">28.2</text>
<rect x="1149.30" y="873.50" width="42.60" height="50.30" fill="#FF664F" shape-rendering="crispEdges"/>
<text x="1170.3" y="901.7" font-size="10.1" text-anchor="middle" fill="#0a0a0a">72.62</text>
<rect x="1191.40" y="873.50" width="42.60" height="50.30" fill="#FF4F3C" shape-rendering="crispEdges"/>
<text x="1212.5" y="901.7" font-size="10.1" text-anchor="middle" fill="#0a0a0a">81.2</text>
<rect x="1233.50" y="873.50" width="42.60" height="50.30" fill="#FF4F3C" shape-rendering="crispEdges"/>
<text x="1254.5" y="901.7" font-size="10.1" text-anchor="middle" fill="#0a0a0a">81.14</text>
<rect x="1275.60" y="873.50" width="42.60" height="50.30" fill="#FF3E30" shape-rendering="crispEdges"/>
<text x="1296.7" y="901.7" font-size="10.1" text-anchor="middle" fill="#0a0a0a">86.47</text>
<rect x="1317.70" y="873.50" width="42.60" height="50.30" fill="#FF2C26" shape-rendering="crispEdges"/>
<text x="1338.8" y="901.7" font-size="10.1" text-anchor="middle" fill="#0a0a0a">91.04</text>
<rect x="1107.20" y="923.30" width="42.60" height="50.30" fill="#FFDFD5" shape-rendering="crispEdges"/>
<text x="1128.2" y="951.5" font-size="10.1" text-anchor="middle" fill="#0a0a0a">16.35</text>
<rect x="1149.30" y="923.30" width="42.60" height="50.30" fill="#FFB4A1" shape-rendering="crispEdges"/>
<text x="1170.3" y="951.5" font-size="10.1" text-anchor="middle" fill="#0a0a0a">37.53</text>
<rect x="1191.40" y="923.30" width="42.60" height="50.30" fill="#FF937C" shape-rendering="crispEdges"/>
<text x="1212.5" y="951.5" font-size="10.1" text-anchor="middle" fill="#0a0a0a">53.13</text>
<rect x="1233.50" y="923.30" width="42.60" height="50.30" fill="#FF9078" shape-rendering="crispEdges"/>
<text x="1254.5" y="951.5" font-size="10.1" text-anchor="middle" fill="#0a0a0a">54.76</text>
<rect x="1275.60" y="923.30" width="42.60" height="50.30" fill="#FF5A45" shape-rendering="crispEdges"/>
<text x="1296.7" y="951.5" font-size="10.1" text-anchor="middle" fill="#0a0a0a">77.32</text>
<rect x="1317.70" y="923.30" width="42.60" height="50.30" fill="#FF3D2F" shape-rendering="crispEdges"/>
<text x="1338.8" y="951.5" font-size="10.1" text-anchor="middle" fill="#0a0a0a">86.84</text>
<rect x="1107.20" y="973.10" width="42.60" height="50.30" fill="#FFFFFF" shape-rendering="crispEdges"/>
<text x="1128.2" y="1001.3" font-size="10.1" text-anchor="middle" fill="#0a0a0a">0</text>
<rect x="1149.30" y="973.10" width="42.60" height="50.30" fill="#FFEFEB" shape-rendering="crispEdges"/>
<text x="1170.3" y="1001.3" font-size="10.1" text-anchor="middle" fill="#0a0a0a">7.83</text>
<rect x="1191.40" y="973.10" width="42.60" height="50.30" fill="#FFEEE8" shape-rendering="crispEdges"/>
<text x="1212.5" y="1001.3" font-size="10.1" text-anchor="middle" fill="#0a0a0a">8.77</text>
<rect x="1233.50" y="973.10" width="42.60" height="50.30" fill="#FFEBE5" shape-rendering="crispEdges"/>
<text x="1254.5" y="1001.3" font-size="10.1" text-anchor="middle" fill="#0a0a0a">9.96</text>
<rect x="1275.60" y="973.10" width="42.60" height="50.30" fill="#FFE2DA" shape-rendering="crispEdges"/>
<text x="1296.7" y="1001.3" font-size="10.1" text-anchor="middle" fill="#0a0a0a">14.41</text>
<rect x="1317.70" y="973.10" width="42.60" height="50.30" fill="#FFCFC2" shape-rendering="crispEdges"/>
<text x="1338.8" y="1001.3" font-size="10.1" text-anchor="middle" fill="#0a0a0a">24</text>
<rect x="1369.50" y="722.60" width="255.60" height="301.80" fill="#EFEFEF"/>
<rect x="1371.00" y="724.10" width="42.60" height="50.30" fill="#FF3329" shape-rendering="crispEdges"/>
<text x="1392.0" y="752.3" font-size="10.1" text-anchor="middle" fill="#0a0a0a">89.47</text>
<rect x="1413.10" y="724.10" width="42.60" height="50.30" fill="#FD131C" shape-rendering="crispEdges"/>
<text x="1434.2" y="752.3" font-size="10.1" text-anchor="middle" fill="#0a0a0a">94.91</text>
<rect x="1455.20" y="724.10" width="42.60" height="50.30" fill="#FD141D" shape-rendering="crispEdges"/>
<text x="1476.2" y="752.3" font-size="10.1" text-anchor="middle" fill="#0a0a0a">94.81</text>
<rect x="1497.30" y="724.10" width="42.60" height="50.30" fill="#FD0E1B" shape-rendering="crispEdges"/>
<text x="1518.3" y="752.3" font-size="10.1" text-anchor="middle" fill="#0a0a0a">95.33</text>
<rect x="1539.40" y="724.10" width="42.60" height="50.30" fill="#FD0F1C" shape-rendering="crispEdges"/>
<text x="1560.4" y="752.3" font-size="10.1" text-anchor="middle" fill="#0a0a0a">95.22</text>
<rect x="1581.50" y="724.10" width="42.60" height="50.30" fill="#FD101C" shape-rendering="crispEdges"/>
<text x="1602.5" y="752.3" font-size="10.1" text-anchor="middle" fill="#0a0a0a">95.17</text>
<rect x="1371.00" y="773.90" width="42.60" height="50.30" fill="#FF644D" shape-rendering="crispEdges"/>
<text x="1392.0" y="802.1" font-size="10.1" text-anchor="middle" fill="#0a0a0a">73.7</text>
<rect x="1413.10" y="773.90" width="42.60" height="50.30" fill="#FE151D" shape-rendering="crispEdges"/>
<text x="1434.2" y="802.1" font-size="10.1" text-anchor="middle" fill="#0a0a0a">94.66</text>
<rect x="1455.20" y="773.90" width="42.60" height="50.30" fill="#FE151D" shape-rendering="crispEdges"/>
<text x="1476.2" y="802.1" font-size="10.1" text-anchor="middle" fill="#0a0a0a">94.66</text>
<rect x="1497.30" y="773.90" width="42.60" height="50.30" fill="#FD131C" shape-rendering="crispEdges"/>
<text x="1518.3" y="802.1" font-size="10.1" text-anchor="middle" fill="#0a0a0a">94.92</text>
<rect x="1539.40" y="773.90" width="42.60" height="50.30" fill="#FE151D" shape-rendering="crispEdges"/>
<text x="1560.4" y="802.1" font-size="10.1" text-anchor="middle" fill="#0a0a0a">94.66</text>
<rect x="1581.50" y="773.90" width="42.60" height="50.30" fill="#FD121C" shape-rendering="crispEdges"/>
<text x="1602.5" y="802.1" font-size="10.1" text-anchor="middle" fill="#0a0a0a">94.97</text>
<rect x="1371.00" y="823.70" width="42.60" height="50.30" fill="#FF9C86" shape-rendering="crispEdges"/>
<text x="1392.0" y="851.9" font-size="10.1" text-anchor="middle" fill="#0a0a0a">48.95</text>
<rect x="1413.10" y="823.70" width="42.60" height="50.30" fill="#FE1E20" shape-rendering="crispEdges"/>
<text x="1434.2" y="851.9" font-size="10.1" text-anchor="middle" fill="#0a0a0a">93.48</text>
<rect x="1455.20" y="823.70" width="42.60" height="50.30" fill="#FE1E20" shape-rendering="crispEdges"/>
<text x="1476.2" y="851.9" font-size="10.1" text-anchor="middle" fill="#0a0a0a">93.43</text>
<rect x="1497.30" y="823.70" width="42.60" height="50.30" fill="#FE191E" shape-rendering="crispEdges"/>
<text x="1518.3" y="851.9" font-size="10.1" text-anchor="middle" fill="#0a0a0a">94.15</text>
<rect x="1539.40" y="823.70" width="42.60" height="50.30" fill="#FE191E" shape-rendering="crispEdges"/>
<text x="1560.4" y="851.9" font-size="10.1" text-anchor="middle" fill="#0a0a0a">94.14</text>
<rect x="1581.50" y="823.70" width="42.60" height="50.30" fill="#FE191E" shape-rendering="crispEdges"/>
<text x="1602.5" y="851.9" font-size="10.1" text-anchor="middle" fill="#0a0a0a">94.2</text>
<rect x="1371.00" y="873.50" width="42.60" height="50.30" fill="#FFBBAA" shape-rendering="crispEdges"/>
<text x="1392.0" y="901.7" font-size="10.1" text-anchor="middle" fill="#0a0a0a">34.05</text>
<rect x="1413.10" y="873.50" width="42.60" height="50.30" fill="#FF3229" shape-rendering="crispEdges"/>
<text x="1434.2" y="901.7" font-size="10.1" text-anchor="middle" fill="#0a0a0a">89.57</text>
<rect x="1455.20" y="873.50" width="42.60" height="50.30" fill="#FF2C26" shape-rendering="crispEdges"/>
<text x="1476.2" y="901.7" font-size="10.1" text-anchor="middle" fill="#0a0a0a">90.86</text>
<rect x="1497.30" y="873.50" width="42.60" height="50.30" fill="#FF2A25" shape-rendering="crispEdges"/>
<text x="1518.3" y="901.7" font-size="10.1" text-anchor="middle" fill="#0a0a0a">91.32</text>
<rect x="1539.40" y="873.50" width="42.60" height="50.30" fill="#FF2222" shape-rendering="crispEdges"/>
<text x="1560.4" y="901.7" font-size="10.1" text-anchor="middle" fill="#0a0a0a">92.81</text>
<rect x="1581.50" y="873.50" width="42.60" height="50.30" fill="#FE1E20" shape-rendering="crispEdges"/>
<text x="1602.5" y="901.7" font-size="10.1" text-anchor="middle" fill="#0a0a0a">93.53</text>
<rect x="1371.00" y="923.30" width="42.60" height="50.30" fill="#FFD8CD" shape-rendering="crispEdges"/>
<text x="1392.0" y="951.5" font-size="10.1" text-anchor="middle" fill="#0a0a0a">19.52</text>
<rect x="1413.10" y="923.30" width="42.60" height="50.30" fill="#FF5C46" shape-rendering="crispEdges"/>
<text x="1434.2" y="951.5" font-size="10.1" text-anchor="middle" fill="#0a0a0a">76.78</text>
<rect x="1455.20" y="923.30" width="42.60" height="50.30" fill="#FF4F3C" shape-rendering="crispEdges"/>
<text x="1476.2" y="951.5" font-size="10.1" text-anchor="middle" fill="#0a0a0a">81.36</text>
<rect x="1497.30" y="923.30" width="42.60" height="50.30" fill="#FF4C3A" shape-rendering="crispEdges"/>
<text x="1518.3" y="951.5" font-size="10.1" text-anchor="middle" fill="#0a0a0a">82.18</text>
<rect x="1539.40" y="923.30" width="42.60" height="50.30" fill="#FF382C" shape-rendering="crispEdges"/>
<text x="1560.4" y="951.5" font-size="10.1" text-anchor="middle" fill="#0a0a0a">88.19</text>
<rect x="1581.50" y="923.30" width="42.60" height="50.30" fill="#FF2F27" shape-rendering="crispEdges"/>
<text x="1602.5" y="951.5" font-size="10.1" text-anchor="middle" fill="#0a0a0a">90.34</text>
<rect x="1371.00" y="973.10" width="42.60" height="50.30" fill="#FFFFFF" shape-rendering="crispEdges"/>
<text x="1392.0" y="1001.3" font-size="10.1" text-anchor="middle" fill="#0a0a0a">0</text>
<rect x="1413.10" y="973.10" width="42.60" height="50.30" fill="#FFC3B3" shape-rendering="crispEdges"/>
<text x="1434.2" y="1001.3" font-size="10.1" text-anchor="middle" fill="#0a0a0a">30.05</text>
<rect x="1455.20" y="973.10" width="42.60" height="50.30" fill="#FFBEAD" shape-rendering="crispEdges"/>
<text x="1476.2" y="1001.3" font-size="10.1" text-anchor="middle" fill="#0a0a0a">32.67</text>
<rect x="1497.30" y="973.10" width="42.60" height="50.30" fill="#FFB7A4" shape-rendering="crispEdges"/>
<text x="1518.3" y="1001.3" font-size="10.1" text-anchor="middle" fill="#0a0a0a">36.21</text>
<rect x="1539.40" y="973.10" width="42.60" height="50.30" fill="#FFA894" shape-rendering="crispEdges"/>
<text x="1560.4" y="1001.3" font-size="10.1" text-anchor="middle" fill="#0a0a0a">43.09</text>
<rect x="1581.50" y="973.10" width="42.60" height="50.30" fill="#FF9D87" shape-rendering="crispEdges"/>
<text x="1602.5" y="1001.3" font-size="10.1" text-anchor="middle" fill="#0a0a0a">48.59</text>
<polygon points="1079.5,728.5 1101.5,728.5 1101.5,969.5" fill="#fff" stroke="#000" stroke-width="3.8" stroke-linejoin="round"/>
<polygon points="1156,1038 1359,1038 1359,1058" fill="#fff" stroke="#000" stroke-width="3.4" stroke-linejoin="round"/>
<polygon points="1417,1038 1624.5,1038 1624.5,1058" fill="#fff" stroke="#000" stroke-width="3.4" stroke-linejoin="round"/>
<text x="1068.0" y="861.0" font-size="31" text-anchor="middle" font-weight="bold" transform="rotate(-90 1068.0 861.0)">ABBV</text>
<text font-size="31" text-anchor="middle" font-weight="bold" transform="translate(1240.0 1093.0) scale(1.03,1)">VT103</text>
<text font-size="31" text-anchor="middle" font-weight="bold" transform="translate(1510.5 1093.0) scale(1.03,1)">VT103</text>
<defs><linearGradient id="cbar" x1="0" y1="0" x2="0" y2="1"><stop offset="0.00" stop-color="#EE2C28"/><stop offset="0.10" stop-color="#F4493A"/><stop offset="0.20" stop-color="#F9604C"/><stop offset="0.30" stop-color="#FE745F"/><stop offset="0.40" stop-color="#FF8773"/><stop offset="0.50" stop-color="#FF9986"/><stop offset="0.60" stop-color="#FFAB9A"/><stop offset="0.70" stop-color="#FFBDAF"/><stop offset="0.80" stop-color="#FFCFC3"/><stop offset="0.90" stop-color="#FFE0D8"/><stop offset="1.00" stop-color="#FFF1EE"/></linearGradient></defs>
<rect x="1690.20" y="746.80" width="21.80" height="246.60" fill="url(#cbar)"/>
<rect x="1712.00" y="765.70" width="11.60" height="3.20" fill="#000"/>
<rect x="1690.20" y="766.70" width="4.40" height="1.20" fill="#fff"/>
<rect x="1707.60" y="766.70" width="4.40" height="1.20" fill="#fff"/>
<text x="1730.5" y="777.2" font-size="27.5" font-weight="bold">100</text>
<rect x="1712.00" y="828.20" width="11.60" height="3.20" fill="#000"/>
<rect x="1690.20" y="829.20" width="4.40" height="1.20" fill="#fff"/>
<rect x="1707.60" y="829.20" width="4.40" height="1.20" fill="#fff"/>
<text x="1730.5" y="839.7" font-size="27.5" font-weight="bold">75</text>
<rect x="1712.00" y="889.10" width="11.60" height="3.20" fill="#000"/>
<rect x="1690.20" y="890.10" width="4.40" height="1.20" fill="#fff"/>
<rect x="1707.60" y="890.10" width="4.40" height="1.20" fill="#fff"/>
<text x="1730.5" y="900.6" font-size="27.5" font-weight="bold">50</text>
<rect x="1712.00" y="949.80" width="11.60" height="3.20" fill="#000"/>
<rect x="1690.20" y="950.80" width="4.40" height="1.20" fill="#fff"/>
<rect x="1707.60" y="950.80" width="4.40" height="1.20" fill="#fff"/>
<text x="1730.5" y="961.3" font-size="27.5" font-weight="bold">25</text>
<text x="1684.8" y="863.5" font-size="32" text-anchor="middle" font-weight="bold" transform="rotate(-90 1684.8 863.5)">% Inhibition</text>
<text x="898.0" y="1259.5" font-size="64" font-weight="bold">d</text>
<text font-size="31" text-anchor="middle" font-weight="bold" fill="#231F20" transform="translate(1314.5 1263.3) scale(1.04,1)">mT4 Tumors</text>
<text font-size="31" text-anchor="middle" font-weight="bold" fill="#231F20" transform="translate(1319.0 1300.0) scale(1.04,1)">in C57BL/6 Mice</text>
<line x1="1155.68" y1="1565.63" x2="1155.68" y2="1568.98" stroke="#FF2F92" stroke-width="2.1"/>
<line x1="1149.68" y1="1565.63" x2="1161.68" y2="1565.63" stroke="#FF2F92" stroke-width="2.1"/>
<line x1="1149.68" y1="1568.98" x2="1161.68" y2="1568.98" stroke="#FF2F92" stroke-width="2.1"/>
<line x1="1181.36" y1="1563.96" x2="1181.36" y2="1567.31" stroke="#FF2F92" stroke-width="2.1"/>
<line x1="1175.36" y1="1563.96" x2="1187.36" y2="1563.96" stroke="#FF2F92" stroke-width="2.1"/>
<line x1="1175.36" y1="1567.31" x2="1187.36" y2="1567.31" stroke="#FF2F92" stroke-width="2.1"/>
<line x1="1207.04" y1="1561.72" x2="1207.04" y2="1566.19" stroke="#FF2F92" stroke-width="2.1"/>
<line x1="1201.04" y1="1561.72" x2="1213.04" y2="1561.72" stroke="#FF2F92" stroke-width="2.1"/>
<line x1="1201.04" y1="1566.19" x2="1213.04" y2="1566.19" stroke="#FF2F92" stroke-width="2.1"/>
<line x1="1232.72" y1="1556.14" x2="1232.72" y2="1561.72" stroke="#FF2F92" stroke-width="2.1"/>
<line x1="1226.72" y1="1556.14" x2="1238.72" y2="1556.14" stroke="#FF2F92" stroke-width="2.1"/>
<line x1="1226.72" y1="1561.72" x2="1238.72" y2="1561.72" stroke="#FF2F92" stroke-width="2.1"/>
<line x1="1258.40" y1="1551.78" x2="1258.40" y2="1557.37" stroke="#FF2F92" stroke-width="2.1"/>
<line x1="1252.40" y1="1551.78" x2="1264.40" y2="1551.78" stroke="#FF2F92" stroke-width="2.1"/>
<line x1="1252.40" y1="1557.37" x2="1264.40" y2="1557.37" stroke="#FF2F92" stroke-width="2.1"/>
<line x1="1284.08" y1="1540.61" x2="1284.08" y2="1547.31" stroke="#FF2F92" stroke-width="2.1"/>
<line x1="1278.08" y1="1540.61" x2="1290.08" y2="1540.61" stroke="#FF2F92" stroke-width="2.1"/>
<line x1="1278.08" y1="1547.31" x2="1290.08" y2="1547.31" stroke="#FF2F92" stroke-width="2.1"/>
<line x1="1309.76" y1="1537.26" x2="1309.76" y2="1543.96" stroke="#FF2F92" stroke-width="2.1"/>
<line x1="1303.76" y1="1537.26" x2="1315.76" y2="1537.26" stroke="#FF2F92" stroke-width="2.1"/>
<line x1="1303.76" y1="1543.96" x2="1315.76" y2="1543.96" stroke="#FF2F92" stroke-width="2.1"/>
<line x1="1335.44" y1="1539.49" x2="1335.44" y2="1545.08" stroke="#FF2F92" stroke-width="2.1"/>
<line x1="1329.44" y1="1539.49" x2="1341.44" y2="1539.49" stroke="#FF2F92" stroke-width="2.1"/>
<line x1="1329.44" y1="1545.08" x2="1341.44" y2="1545.08" stroke="#FF2F92" stroke-width="2.1"/>
<line x1="1361.12" y1="1535.47" x2="1361.12" y2="1541.06" stroke="#FF2F92" stroke-width="2.1"/>
<line x1="1355.12" y1="1535.47" x2="1367.12" y2="1535.47" stroke="#FF2F92" stroke-width="2.1"/>
<line x1="1355.12" y1="1541.06" x2="1367.12" y2="1541.06" stroke="#FF2F92" stroke-width="2.1"/>
<line x1="1386.80" y1="1522.18" x2="1386.80" y2="1528.88" stroke="#FF2F92" stroke-width="2.1"/>
<line x1="1380.80" y1="1522.18" x2="1392.80" y2="1522.18" stroke="#FF2F92" stroke-width="2.1"/>
<line x1="1380.80" y1="1528.88" x2="1392.80" y2="1528.88" stroke="#FF2F92" stroke-width="2.1"/>
<line x1="1412.48" y1="1520.95" x2="1412.48" y2="1538.82" stroke="#FF2F92" stroke-width="2.1"/>
<line x1="1406.48" y1="1520.95" x2="1418.48" y2="1520.95" stroke="#FF2F92" stroke-width="2.1"/>
<line x1="1406.48" y1="1538.82" x2="1418.48" y2="1538.82" stroke="#FF2F92" stroke-width="2.1"/>
<line x1="1438.16" y1="1516.04" x2="1438.16" y2="1527.21" stroke="#FF2F92" stroke-width="2.1"/>
<line x1="1432.16" y1="1516.04" x2="1444.16" y2="1516.04" stroke="#FF2F92" stroke-width="2.1"/>
<line x1="1432.16" y1="1527.21" x2="1444.16" y2="1527.21" stroke="#FF2F92" stroke-width="2.1"/>
<line x1="1463.84" y1="1498.28" x2="1463.84" y2="1509.45" stroke="#FF2F92" stroke-width="2.1"/>
<line x1="1457.84" y1="1498.28" x2="1469.84" y2="1498.28" stroke="#FF2F92" stroke-width="2.1"/>
<line x1="1457.84" y1="1509.45" x2="1469.84" y2="1509.45" stroke="#FF2F92" stroke-width="2.1"/>
<line x1="1489.52" y1="1491.02" x2="1489.52" y2="1505.54" stroke="#FF2F92" stroke-width="2.1"/>
<line x1="1483.52" y1="1491.02" x2="1495.52" y2="1491.02" stroke="#FF2F92" stroke-width="2.1"/>
<line x1="1483.52" y1="1505.54" x2="1495.52" y2="1505.54" stroke="#FF2F92" stroke-width="2.1"/>
<polyline points="1130.0,1569.9 1155.7,1567.3 1181.4,1565.6 1207.0,1564.0 1232.7,1558.9 1258.4,1554.6 1284.1,1544.0 1309.8,1540.6 1335.4,1542.3 1361.1,1538.3 1386.8,1525.5 1412.5,1529.9 1438.2,1521.6 1463.8,1503.9 1489.5,1498.3" fill="none" stroke="#FF2F92" stroke-width="5.0" stroke-linejoin="round" stroke-linecap="round"/>
<circle cx="1130.00" cy="1569.88" r="5.3" fill="#FF2F92"/>
<circle cx="1155.68" cy="1567.31" r="5.3" fill="#FF2F92"/>
<circle cx="1181.36" cy="1565.63" r="5.3" fill="#FF2F92"/>
<circle cx="1207.04" cy="1563.96" r="5.3" fill="#FF2F92"/>
<circle cx="1232.72" cy="1558.93" r="5.3" fill="#FF2F92"/>
<circle cx="1258.40" cy="1554.57" r="5.3" fill="#FF2F92"/>
<circle cx="1284.08" cy="1543.96" r="5.3" fill="#FF2F92"/>
<circle cx="1309.76" cy="1540.61" r="5.3" fill="#FF2F92"/>
<circle cx="1335.44" cy="1542.29" r="5.3" fill="#FF2F92"/>
<circle cx="1361.12" cy="1538.27" r="5.3" fill="#FF2F92"/>
<circle cx="1386.80" cy="1525.53" r="5.3" fill="#FF2F92"/>
<circle cx="1412.48" cy="1529.89" r="5.3" fill="#FF2F92"/>
<circle cx="1438.16" cy="1521.62" r="5.3" fill="#FF2F92"/>
<circle cx="1463.84" cy="1503.86" r="5.3" fill="#FF2F92"/>
<circle cx="1489.52" cy="1498.28" r="5.3" fill="#FF2F92"/>
<line x1="1155.68" y1="1563.96" x2="1155.68" y2="1567.31" stroke="#0433FF" stroke-width="2.1"/>
<line x1="1149.68" y1="1563.96" x2="1161.68" y2="1563.96" stroke="#0433FF" stroke-width="2.1"/>
<line x1="1149.68" y1="1567.31" x2="1161.68" y2="1567.31" stroke="#0433FF" stroke-width="2.1"/>
<line x1="1181.36" y1="1560.05" x2="1181.36" y2="1564.52" stroke="#0433FF" stroke-width="2.1"/>
<line x1="1175.36" y1="1560.05" x2="1187.36" y2="1560.05" stroke="#0433FF" stroke-width="2.1"/>
<line x1="1175.36" y1="1564.52" x2="1187.36" y2="1564.52" stroke="#0433FF" stroke-width="2.1"/>
<line x1="1207.04" y1="1545.41" x2="1207.04" y2="1554.35" stroke="#0433FF" stroke-width="2.1"/>
<line x1="1201.04" y1="1545.41" x2="1213.04" y2="1545.41" stroke="#0433FF" stroke-width="2.1"/>
<line x1="1201.04" y1="1554.35" x2="1213.04" y2="1554.35" stroke="#0433FF" stroke-width="2.1"/>
<line x1="1232.72" y1="1542.73" x2="1232.72" y2="1551.67" stroke="#0433FF" stroke-width="2.1"/>
<line x1="1226.72" y1="1542.73" x2="1238.72" y2="1542.73" stroke="#0433FF" stroke-width="2.1"/>
<line x1="1226.72" y1="1551.67" x2="1238.72" y2="1551.67" stroke="#0433FF" stroke-width="2.1"/>
<line x1="1258.40" y1="1524.41" x2="1258.40" y2="1540.05" stroke="#0433FF" stroke-width="2.1"/>
<line x1="1252.40" y1="1524.41" x2="1264.40" y2="1524.41" stroke="#0433FF" stroke-width="2.1"/>
<line x1="1252.40" y1="1540.05" x2="1264.40" y2="1540.05" stroke="#0433FF" stroke-width="2.1"/>
<line x1="1284.08" y1="1509.45" x2="1284.08" y2="1525.09" stroke="#0433FF" stroke-width="2.1"/>
<line x1="1278.08" y1="1509.45" x2="1290.08" y2="1509.45" stroke="#0433FF" stroke-width="2.1"/>
<line x1="1278.08" y1="1525.09" x2="1290.08" y2="1525.09" stroke="#0433FF" stroke-width="2.1"/>
<line x1="1309.76" y1="1506.54" x2="1309.76" y2="1533.35" stroke="#0433FF" stroke-width="2.1"/>
<line x1="1303.76" y1="1506.54" x2="1315.76" y2="1506.54" stroke="#0433FF" stroke-width="2.1"/>
<line x1="1303.76" y1="1533.35" x2="1315.76" y2="1533.35" stroke="#0433FF" stroke-width="2.1"/>
<line x1="1335.44" y1="1502.75" x2="1335.44" y2="1521.73" stroke="#0433FF" stroke-width="2.1"/>
<line x1="1329.44" y1="1502.75" x2="1341.44" y2="1502.75" stroke="#0433FF" stroke-width="2.1"/>
<line x1="1329.44" y1="1521.73" x2="1341.44" y2="1521.73" stroke="#0433FF" stroke-width="2.1"/>
<line x1="1361.12" y1="1477.61" x2="1361.12" y2="1502.19" stroke="#0433FF" stroke-width="2.1"/>
<line x1="1355.12" y1="1477.61" x2="1367.12" y2="1477.61" stroke="#0433FF" stroke-width="2.1"/>
<line x1="1355.12" y1="1502.19" x2="1367.12" y2="1502.19" stroke="#0433FF" stroke-width="2.1"/>
<line x1="1386.80" y1="1483.20" x2="1386.80" y2="1510.01" stroke="#0433FF" stroke-width="2.1"/>
<line x1="1380.80" y1="1483.20" x2="1392.80" y2="1483.20" stroke="#0433FF" stroke-width="2.1"/>
<line x1="1380.80" y1="1510.01" x2="1392.80" y2="1510.01" stroke="#0433FF" stroke-width="2.1"/>
<line x1="1412.48" y1="1464.54" x2="1412.48" y2="1484.65" stroke="#0433FF" stroke-width="2.1"/>
<line x1="1406.48" y1="1464.54" x2="1418.48" y2="1464.54" stroke="#0433FF" stroke-width="2.1"/>
<line x1="1406.48" y1="1484.65" x2="1418.48" y2="1484.65" stroke="#0433FF" stroke-width="2.1"/>
<line x1="1438.16" y1="1457.62" x2="1438.16" y2="1482.19" stroke="#0433FF" stroke-width="2.1"/>
<line x1="1432.16" y1="1457.62" x2="1444.16" y2="1457.62" stroke="#0433FF" stroke-width="2.1"/>
<line x1="1432.16" y1="1482.19" x2="1444.16" y2="1482.19" stroke="#0433FF" stroke-width="2.1"/>
<line x1="1463.84" y1="1408.92" x2="1463.84" y2="1446.90" stroke="#0433FF" stroke-width="2.1"/>
<line x1="1457.84" y1="1408.92" x2="1469.84" y2="1408.92" stroke="#0433FF" stroke-width="2.1"/>
<line x1="1457.84" y1="1446.90" x2="1469.84" y2="1446.90" stroke="#0433FF" stroke-width="2.1"/>
<line x1="1489.52" y1="1363.34" x2="1489.52" y2="1405.79" stroke="#0433FF" stroke-width="2.1"/>
<line x1="1483.52" y1="1363.34" x2="1495.52" y2="1363.34" stroke="#0433FF" stroke-width="2.1"/>
<line x1="1483.52" y1="1405.79" x2="1495.52" y2="1405.79" stroke="#0433FF" stroke-width="2.1"/>
<polyline points="1130.0,1569.9 1155.7,1565.6 1181.4,1562.3 1207.0,1549.9 1232.7,1547.2 1258.4,1532.2 1284.1,1517.3 1309.8,1519.9 1335.4,1512.2 1361.1,1489.9 1386.8,1496.6 1412.5,1474.6 1438.2,1469.9 1463.8,1427.9 1489.5,1384.6" fill="none" stroke="#0433FF" stroke-width="5.0" stroke-linejoin="round" stroke-linecap="round"/>
<circle cx="1130.00" cy="1569.88" r="5.3" fill="#0433FF"/>
<circle cx="1155.68" cy="1565.63" r="5.3" fill="#0433FF"/>
<circle cx="1181.36" cy="1562.28" r="5.3" fill="#0433FF"/>
<circle cx="1207.04" cy="1549.88" r="5.3" fill="#0433FF"/>
<circle cx="1232.72" cy="1547.20" r="5.3" fill="#0433FF"/>
<circle cx="1258.40" cy="1532.23" r="5.3" fill="#0433FF"/>
<circle cx="1284.08" cy="1517.27" r="5.3" fill="#0433FF"/>
<circle cx="1309.76" cy="1519.95" r="5.3" fill="#0433FF"/>
<circle cx="1335.44" cy="1512.24" r="5.3" fill="#0433FF"/>
<circle cx="1361.12" cy="1489.90" r="5.3" fill="#0433FF"/>
<circle cx="1386.80" cy="1496.60" r="5.3" fill="#0433FF"/>
<circle cx="1412.48" cy="1474.60" r="5.3" fill="#0433FF"/>
<circle cx="1438.16" cy="1469.91" r="5.3" fill="#0433FF"/>
<circle cx="1463.84" cy="1427.91" r="5.3" fill="#0433FF"/>
<circle cx="1489.52" cy="1384.57" r="5.3" fill="#0433FF"/>
<line x1="1155.68" y1="1567.31" x2="1155.68" y2="1570.66" stroke="#00FDFF" stroke-width="2.1"/>
<line x1="1149.68" y1="1567.31" x2="1161.68" y2="1567.31" stroke="#00FDFF" stroke-width="2.1"/>
<line x1="1149.68" y1="1570.66" x2="1161.68" y2="1570.66" stroke="#00FDFF" stroke-width="2.1"/>
<line x1="1181.36" y1="1563.40" x2="1181.36" y2="1567.87" stroke="#00FDFF" stroke-width="2.1"/>
<line x1="1175.36" y1="1563.40" x2="1187.36" y2="1563.40" stroke="#00FDFF" stroke-width="2.1"/>
<line x1="1175.36" y1="1567.87" x2="1187.36" y2="1567.87" stroke="#00FDFF" stroke-width="2.1"/>
<line x1="1207.04" y1="1548.88" x2="1207.04" y2="1555.58" stroke="#00FDFF" stroke-width="2.1"/>
<line x1="1201.04" y1="1548.88" x2="1213.04" y2="1548.88" stroke="#00FDFF" stroke-width="2.1"/>
<line x1="1201.04" y1="1555.58" x2="1213.04" y2="1555.58" stroke="#00FDFF" stroke-width="2.1"/>
<line x1="1232.72" y1="1546.64" x2="1232.72" y2="1557.81" stroke="#00FDFF" stroke-width="2.1"/>
<line x1="1226.72" y1="1546.64" x2="1238.72" y2="1546.64" stroke="#00FDFF" stroke-width="2.1"/>
<line x1="1226.72" y1="1557.81" x2="1238.72" y2="1557.81" stroke="#00FDFF" stroke-width="2.1"/>
<line x1="1258.40" y1="1547.76" x2="1258.40" y2="1556.70" stroke="#00FDFF" stroke-width="2.1"/>
<line x1="1252.40" y1="1547.76" x2="1264.40" y2="1547.76" stroke="#00FDFF" stroke-width="2.1"/>
<line x1="1252.40" y1="1556.70" x2="1264.40" y2="1556.70" stroke="#00FDFF" stroke-width="2.1"/>
<line x1="1284.08" y1="1533.91" x2="1284.08" y2="1547.31" stroke="#00FDFF" stroke-width="2.1"/>
<line x1="1278.08" y1="1533.91" x2="1290.08" y2="1533.91" stroke="#00FDFF" stroke-width="2.1"/>
<line x1="1278.08" y1="1547.31" x2="1290.08" y2="1547.31" stroke="#00FDFF" stroke-width="2.1"/>
<line x1="1309.76" y1="1523.86" x2="1309.76" y2="1537.26" stroke="#00FDFF" stroke-width="2.1"/>
<line x1="1303.76" y1="1523.86" x2="1315.76" y2="1523.86" stroke="#00FDFF" stroke-width="2.1"/>
<line x1="1303.76" y1="1537.26" x2="1315.76" y2="1537.26" stroke="#00FDFF" stroke-width="2.1"/>
<line x1="1335.44" y1="1502.19" x2="1335.44" y2="1522.29" stroke="#00FDFF" stroke-width="2.1"/>
<line x1="1329.44" y1="1502.19" x2="1341.44" y2="1502.19" stroke="#00FDFF" stroke-width="2.1"/>
<line x1="1329.44" y1="1522.29" x2="1341.44" y2="1522.29" stroke="#00FDFF" stroke-width="2.1"/>
<line x1="1361.12" y1="1477.17" x2="1361.12" y2="1510.68" stroke="#00FDFF" stroke-width="2.1"/>
<line x1="1355.12" y1="1477.17" x2="1367.12" y2="1477.17" stroke="#00FDFF" stroke-width="2.1"/>
<line x1="1355.12" y1="1510.68" x2="1367.12" y2="1510.68" stroke="#00FDFF" stroke-width="2.1"/>
<line x1="1386.80" y1="1453.93" x2="1386.80" y2="1478.51" stroke="#00FDFF" stroke-width="2.1"/>
<line x1="1380.80" y1="1453.93" x2="1392.80" y2="1453.93" stroke="#00FDFF" stroke-width="2.1"/>
<line x1="1380.80" y1="1478.51" x2="1392.80" y2="1478.51" stroke="#00FDFF" stroke-width="2.1"/>
<line x1="1412.48" y1="1442.09" x2="1412.48" y2="1484.54" stroke="#00FDFF" stroke-width="2.1"/>
<line x1="1406.48" y1="1442.09" x2="1418.48" y2="1442.09" stroke="#00FDFF" stroke-width="2.1"/>
<line x1="1406.48" y1="1484.54" x2="1418.48" y2="1484.54" stroke="#00FDFF" stroke-width="2.1"/>
<line x1="1438.16" y1="1423.88" x2="1438.16" y2="1461.86" stroke="#00FDFF" stroke-width="2.1"/>
<line x1="1432.16" y1="1423.88" x2="1444.16" y2="1423.88" stroke="#00FDFF" stroke-width="2.1"/>
<line x1="1432.16" y1="1461.86" x2="1444.16" y2="1461.86" stroke="#00FDFF" stroke-width="2.1"/>
<line x1="1463.84" y1="1415.51" x2="1463.84" y2="1466.89" stroke="#00FDFF" stroke-width="2.1"/>
<line x1="1457.84" y1="1415.51" x2="1469.84" y2="1415.51" stroke="#00FDFF" stroke-width="2.1"/>
<line x1="1457.84" y1="1466.89" x2="1469.84" y2="1466.89" stroke="#00FDFF" stroke-width="2.1"/>
<line x1="1489.52" y1="1369.49" x2="1489.52" y2="1438.74" stroke="#00FDFF" stroke-width="2.1"/>
<line x1="1483.52" y1="1369.49" x2="1495.52" y2="1369.49" stroke="#00FDFF" stroke-width="2.1"/>
<line x1="1483.52" y1="1438.74" x2="1495.52" y2="1438.74" stroke="#00FDFF" stroke-width="2.1"/>
<polyline points="1130.0,1569.9 1155.7,1569.0 1181.4,1565.6 1207.0,1552.2 1232.7,1552.2 1258.4,1552.2 1284.1,1540.6 1309.8,1530.6 1335.4,1512.2 1361.1,1493.9 1386.8,1466.2 1412.5,1463.3 1438.2,1442.9 1463.8,1441.2 1489.5,1404.1" fill="none" stroke="#00FDFF" stroke-width="5.0" stroke-linejoin="round" stroke-linecap="round"/>
<circle cx="1130.00" cy="1569.88" r="5.3" fill="#00FDFF"/>
<circle cx="1155.68" cy="1568.98" r="5.3" fill="#00FDFF"/>
<circle cx="1181.36" cy="1565.63" r="5.3" fill="#00FDFF"/>
<circle cx="1207.04" cy="1552.23" r="5.3" fill="#00FDFF"/>
<circle cx="1232.72" cy="1552.23" r="5.3" fill="#00FDFF"/>
<circle cx="1258.40" cy="1552.23" r="5.3" fill="#00FDFF"/>
<circle cx="1284.08" cy="1540.61" r="5.3" fill="#00FDFF"/>
<circle cx="1309.76" cy="1530.56" r="5.3" fill="#00FDFF"/>
<circle cx="1335.44" cy="1512.24" r="5.3" fill="#00FDFF"/>
<circle cx="1361.12" cy="1493.92" r="5.3" fill="#00FDFF"/>
<circle cx="1386.80" cy="1466.22" r="5.3" fill="#00FDFF"/>
<circle cx="1412.48" cy="1463.31" r="5.3" fill="#00FDFF"/>
<circle cx="1438.16" cy="1442.87" r="5.3" fill="#00FDFF"/>
<circle cx="1463.84" cy="1441.20" r="5.3" fill="#00FDFF"/>
<circle cx="1489.52" cy="1404.11" r="5.3" fill="#00FDFF"/>
<rect x="1127.30" y="1325.00" width="5.40" height="264.00" fill="#000"/>
<rect x="1121.70" y="1577.90" width="395.50" height="5.40" fill="#000"/>
<rect x="1127.30" y="1580.00" width="5.40" height="9.50" fill="#000"/>
<text font-size="31" text-anchor="middle" font-weight="bold" transform="translate(1130.0 1625.5) scale(1.03,1)">0</text>
<rect x="1255.70" y="1580.00" width="5.40" height="9.50" fill="#000"/>
<text font-size="31" text-anchor="middle" font-weight="bold" transform="translate(1258.4 1625.5) scale(1.03,1)">10</text>
<rect x="1384.10" y="1580.00" width="5.40" height="9.50" fill="#000"/>
<text font-size="31" text-anchor="middle" font-weight="bold" transform="translate(1386.8 1625.5) scale(1.03,1)">20</text>
<rect x="1512.50" y="1580.00" width="5.40" height="9.50" fill="#000"/>
<text font-size="31" text-anchor="middle" font-weight="bold" transform="translate(1515.2 1625.5) scale(1.03,1)">30</text>
<rect x="1121.70" y="1577.90" width="8.00" height="5.40" fill="#000"/>
<text font-size="30" text-anchor="end" font-weight="bold" transform="translate(1113.5 1591.4) scale(1.07,1)">0</text>
<rect x="1121.70" y="1522.05" width="8.00" height="5.40" fill="#000"/>
<text font-size="30" text-anchor="end" font-weight="bold" transform="translate(1113.5 1535.5) scale(1.07,1)">5</text>
<rect x="1121.70" y="1466.20" width="8.00" height="5.40" fill="#000"/>
<text font-size="30" text-anchor="end" font-weight="bold" transform="translate(1113.5 1479.7) scale(1.07,1)">10</text>
<rect x="1121.70" y="1410.35" width="8.00" height="5.40" fill="#000"/>
<text font-size="30" text-anchor="end" font-weight="bold" transform="translate(1113.5 1423.8) scale(1.07,1)">15</text>
<rect x="1121.70" y="1354.50" width="8.00" height="5.40" fill="#000"/>
<text font-size="30" text-anchor="end" font-weight="bold" transform="translate(1113.5 1368.0) scale(1.07,1)">20</text>
<line x1="1155.68" y1="1557.70" x2="1155.68" y2="1562.17" stroke="#000" stroke-width="2.1"/>
<line x1="1149.68" y1="1557.70" x2="1161.68" y2="1557.70" stroke="#000" stroke-width="2.1"/>
<line x1="1149.68" y1="1562.17" x2="1161.68" y2="1562.17" stroke="#000" stroke-width="2.1"/>
<line x1="1181.36" y1="1549.44" x2="1181.36" y2="1555.02" stroke="#000" stroke-width="2.1"/>
<line x1="1175.36" y1="1549.44" x2="1187.36" y2="1549.44" stroke="#000" stroke-width="2.1"/>
<line x1="1175.36" y1="1555.02" x2="1187.36" y2="1555.02" stroke="#000" stroke-width="2.1"/>
<line x1="1207.04" y1="1522.07" x2="1207.04" y2="1531.01" stroke="#000" stroke-width="2.1"/>
<line x1="1201.04" y1="1522.07" x2="1213.04" y2="1522.07" stroke="#000" stroke-width="2.1"/>
<line x1="1201.04" y1="1531.01" x2="1213.04" y2="1531.01" stroke="#000" stroke-width="2.1"/>
<line x1="1232.72" y1="1495.48" x2="1232.72" y2="1515.59" stroke="#000" stroke-width="2.1"/>
<line x1="1226.72" y1="1495.48" x2="1238.72" y2="1495.48" stroke="#000" stroke-width="2.1"/>
<line x1="1226.72" y1="1515.59" x2="1238.72" y2="1515.59" stroke="#000" stroke-width="2.1"/>
<line x1="1258.40" y1="1454.38" x2="1258.40" y2="1483.42" stroke="#000" stroke-width="2.1"/>
<line x1="1252.40" y1="1454.38" x2="1264.40" y2="1454.38" stroke="#000" stroke-width="2.1"/>
<line x1="1252.40" y1="1483.42" x2="1264.40" y2="1483.42" stroke="#000" stroke-width="2.1"/>
<line x1="1284.08" y1="1434.38" x2="1284.08" y2="1481.30" stroke="#000" stroke-width="2.1"/>
<line x1="1278.08" y1="1434.38" x2="1290.08" y2="1434.38" stroke="#000" stroke-width="2.1"/>
<line x1="1278.08" y1="1481.30" x2="1290.08" y2="1481.30" stroke="#000" stroke-width="2.1"/>
<line x1="1309.76" y1="1404.45" x2="1309.76" y2="1431.26" stroke="#000" stroke-width="2.1"/>
<line x1="1303.76" y1="1404.45" x2="1315.76" y2="1404.45" stroke="#000" stroke-width="2.1"/>
<line x1="1303.76" y1="1431.26" x2="1315.76" y2="1431.26" stroke="#000" stroke-width="2.1"/>
<line x1="1335.44" y1="1381.77" x2="1335.44" y2="1417.52" stroke="#000" stroke-width="2.1"/>
<line x1="1329.44" y1="1381.77" x2="1341.44" y2="1381.77" stroke="#000" stroke-width="2.1"/>
<line x1="1329.44" y1="1417.52" x2="1341.44" y2="1417.52" stroke="#000" stroke-width="2.1"/>
<line x1="1361.12" y1="1386.24" x2="1361.12" y2="1401.88" stroke="#000" stroke-width="2.1"/>
<line x1="1355.12" y1="1386.24" x2="1367.12" y2="1386.24" stroke="#000" stroke-width="2.1"/>
<line x1="1355.12" y1="1401.88" x2="1367.12" y2="1401.88" stroke="#000" stroke-width="2.1"/>
<line x1="1386.80" y1="1349.27" x2="1386.80" y2="1370.49" stroke="#000" stroke-width="2.1"/>
<line x1="1380.80" y1="1349.27" x2="1392.80" y2="1349.27" stroke="#000" stroke-width="2.1"/>
<line x1="1380.80" y1="1370.49" x2="1392.80" y2="1370.49" stroke="#000" stroke-width="2.1"/>
<polyline points="1130.0,1569.9 1155.7,1559.9 1181.4,1552.2 1207.0,1526.5 1232.7,1505.5 1258.4,1468.9 1284.1,1457.8 1309.8,1417.9 1335.4,1399.6 1361.1,1394.1 1386.8,1359.9" fill="none" stroke="#000" stroke-width="5.0" stroke-linejoin="round" stroke-linecap="round"/>
<circle cx="1130.00" cy="1569.88" r="5.3" fill="#000"/>
<circle cx="1155.68" cy="1559.94" r="5.3" fill="#000"/>
<circle cx="1181.36" cy="1552.23" r="5.3" fill="#000"/>
<circle cx="1207.04" cy="1526.54" r="5.3" fill="#000"/>
<circle cx="1232.72" cy="1505.54" r="5.3" fill="#000"/>
<circle cx="1258.40" cy="1468.90" r="5.3" fill="#000"/>
<circle cx="1284.08" cy="1457.84" r="5.3" fill="#000"/>
<circle cx="1309.76" cy="1417.85" r="5.3" fill="#000"/>
<circle cx="1335.44" cy="1399.65" r="5.3" fill="#000"/>
<circle cx="1361.12" cy="1394.06" r="5.3" fill="#000"/>
<circle cx="1386.80" cy="1359.88" r="5.3" fill="#000"/>
<text x="1320.0" y="1668.5" font-size="31" text-anchor="middle" font-weight="bold">Days post treatment</text>
<text x="1056.0" y="1468.0" font-size="31" text-anchor="middle" font-weight="bold" transform="rotate(-90 1056.0 1468.0)">Relative tumor size</text>
<text x="1562.5" y="1374.5" font-size="31.5" font-weight="bold">DMSO (N=6)</text>
<text x="1564.0" y="1431.7" font-size="31.5" font-weight="bold" fill="#00FDFF">ABBV (N=6)</text>
<text x="1564.0" y="1488.8" font-size="31.5" font-weight="bold" fill="#0433FF">VT103 (N=6)</text>
<text x="1564.0" y="1547.2" font-size="31.5" font-weight="bold" fill="#E6007E">A+V (N=6)</text>
<line x1="1757.00" y1="1340.00" x2="1757.00" y2="1408.30" stroke="#231F20" stroke-width="3.2"/>
<line x1="1757.00" y1="1417.20" x2="1757.00" y2="1484.60" stroke="#231F20" stroke-width="3.2"/>
<line x1="1757.00" y1="1494.70" x2="1757.00" y2="1562.80" stroke="#231F20" stroke-width="3.2"/>
<line x1="1794.80" y1="1355.00" x2="1794.80" y2="1458.50" stroke="#231F20" stroke-width="3.2"/>
<line x1="1832.80" y1="1416.50" x2="1832.80" y2="1520.00" stroke="#231F20" stroke-width="3.2"/>
<line x1="1870.90" y1="1357.00" x2="1870.90" y2="1518.50" stroke="#231F20" stroke-width="3.2"/>
<text x="1782.6" y="1407.0" font-size="23.4" fill="#231F20" transform="rotate(-90 1782.6 1407.0)">p&lt;0.0001</text>
<text x="1782.6" y="1458.0" font-size="23.4" fill="#231F20" transform="rotate(-90 1782.6 1458.0)">ns</text>
<text x="1782.6" y="1576.0" font-size="23.4" fill="#231F20" transform="rotate(-90 1782.6 1576.0)">p=0.0006</text>
<text x="1821.0" y="1457.5" font-size="23.4" fill="#231F20" transform="rotate(-90 1821.0 1457.5)">p&lt;0.0001</text>
<text x="1859.0" y="1514.0" font-size="23.4" fill="#231F20" transform="rotate(-90 1859.0 1514.0)">p&lt;0.0001</text>
<text x="1897.0" y="1483.5" font-size="23.4" fill="#231F20" transform="rotate(-90 1897.0 1483.5)">p&lt;0.0001</text>
<text x="-2.5" y="2113.5" font-size="64" font-weight="bold">e</text>
<text x="312.5" y="2137.8" font-size="32.5" text-anchor="middle" font-weight="bold" fill="#ED1C24">#5462 Tumors</text>
<text x="313.0" y="2177.0" font-size="32.5" text-anchor="middle" font-weight="bold" fill="#ED1C24">in Nude Mice</text>
<line x1="179.18" y1="2418.99" x2="179.18" y2="2422.33" stroke="#FF2F92" stroke-width="2.1"/>
<line x1="173.18" y1="2418.99" x2="185.18" y2="2418.99" stroke="#FF2F92" stroke-width="2.1"/>
<line x1="173.18" y1="2422.33" x2="185.18" y2="2422.33" stroke="#FF2F92" stroke-width="2.1"/>
<line x1="217.56" y1="2399.38" x2="217.56" y2="2412.75" stroke="#FF2F92" stroke-width="2.1"/>
<line x1="211.56" y1="2399.38" x2="223.56" y2="2399.38" stroke="#FF2F92" stroke-width="2.1"/>
<line x1="211.56" y1="2412.75" x2="223.56" y2="2412.75" stroke="#FF2F92" stroke-width="2.1"/>
<line x1="255.94" y1="2375.99" x2="255.94" y2="2397.15" stroke="#FF2F92" stroke-width="2.1"/>
<line x1="249.94" y1="2375.99" x2="261.94" y2="2375.99" stroke="#FF2F92" stroke-width="2.1"/>
<line x1="249.94" y1="2397.15" x2="261.94" y2="2397.15" stroke="#FF2F92" stroke-width="2.1"/>
<line x1="294.32" y1="2354.26" x2="294.32" y2="2387.68" stroke="#FF2F92" stroke-width="2.1"/>
<line x1="288.32" y1="2354.26" x2="300.32" y2="2354.26" stroke="#FF2F92" stroke-width="2.1"/>
<line x1="288.32" y1="2387.68" x2="300.32" y2="2387.68" stroke="#FF2F92" stroke-width="2.1"/>
<line x1="332.70" y1="2326.41" x2="332.70" y2="2373.20" stroke="#FF2F92" stroke-width="2.1"/>
<line x1="326.70" y1="2326.41" x2="338.70" y2="2326.41" stroke="#FF2F92" stroke-width="2.1"/>
<line x1="326.70" y1="2373.20" x2="338.70" y2="2373.20" stroke="#FF2F92" stroke-width="2.1"/>
<line x1="371.08" y1="2350.36" x2="371.08" y2="2360.39" stroke="#FF2F92" stroke-width="2.1"/>
<line x1="365.08" y1="2350.36" x2="377.08" y2="2350.36" stroke="#FF2F92" stroke-width="2.1"/>
<line x1="365.08" y1="2360.39" x2="377.08" y2="2360.39" stroke="#FF2F92" stroke-width="2.1"/>
<line x1="409.46" y1="2335.88" x2="409.46" y2="2350.36" stroke="#FF2F92" stroke-width="2.1"/>
<line x1="403.46" y1="2335.88" x2="415.46" y2="2335.88" stroke="#FF2F92" stroke-width="2.1"/>
<line x1="403.46" y1="2350.36" x2="415.46" y2="2350.36" stroke="#FF2F92" stroke-width="2.1"/>
<line x1="447.84" y1="2326.41" x2="447.84" y2="2355.38" stroke="#FF2F92" stroke-width="2.1"/>
<line x1="441.84" y1="2326.41" x2="453.84" y2="2326.41" stroke="#FF2F92" stroke-width="2.1"/>
<line x1="441.84" y1="2355.38" x2="453.84" y2="2355.38" stroke="#FF2F92" stroke-width="2.1"/>
<polyline points="140.8,2426.7 179.2,2420.7 217.6,2406.1 255.9,2386.6 294.3,2371.0 332.7,2349.8 371.1,2355.4 409.5,2343.1 447.8,2340.9" fill="none" stroke="#FF2F92" stroke-width="5.0" stroke-linejoin="round" stroke-linecap="round"/>
<circle cx="140.80" cy="2426.67" r="5.3" fill="#FF2F92"/>
<circle cx="179.18" cy="2420.66" r="5.3" fill="#FF2F92"/>
<circle cx="217.56" cy="2406.06" r="5.3" fill="#FF2F92"/>
<circle cx="255.94" cy="2386.57" r="5.3" fill="#FF2F92"/>
<circle cx="294.32" cy="2370.97" r="5.3" fill="#FF2F92"/>
<circle cx="332.70" cy="2349.81" r="5.3" fill="#FF2F92"/>
<circle cx="371.08" cy="2355.38" r="5.3" fill="#FF2F92"/>
<circle cx="409.46" cy="2343.12" r="5.3" fill="#FF2F92"/>
<circle cx="447.84" cy="2340.90" r="5.3" fill="#FF2F92"/>
<line x1="179.18" y1="2414.31" x2="179.18" y2="2417.65" stroke="#00FDFF" stroke-width="2.1"/>
<line x1="173.18" y1="2414.31" x2="185.18" y2="2414.31" stroke="#00FDFF" stroke-width="2.1"/>
<line x1="173.18" y1="2417.65" x2="185.18" y2="2417.65" stroke="#00FDFF" stroke-width="2.1"/>
<line x1="217.56" y1="2398.82" x2="217.56" y2="2405.51" stroke="#00FDFF" stroke-width="2.1"/>
<line x1="211.56" y1="2398.82" x2="223.56" y2="2398.82" stroke="#00FDFF" stroke-width="2.1"/>
<line x1="211.56" y1="2405.51" x2="223.56" y2="2405.51" stroke="#00FDFF" stroke-width="2.1"/>
<line x1="255.94" y1="2365.18" x2="255.94" y2="2386.35" stroke="#00FDFF" stroke-width="2.1"/>
<line x1="249.94" y1="2365.18" x2="261.94" y2="2365.18" stroke="#00FDFF" stroke-width="2.1"/>
<line x1="249.94" y1="2386.35" x2="261.94" y2="2386.35" stroke="#00FDFF" stroke-width="2.1"/>
<line x1="294.32" y1="2350.92" x2="294.32" y2="2366.52" stroke="#00FDFF" stroke-width="2.1"/>
<line x1="288.32" y1="2350.92" x2="300.32" y2="2350.92" stroke="#00FDFF" stroke-width="2.1"/>
<line x1="288.32" y1="2366.52" x2="300.32" y2="2366.52" stroke="#00FDFF" stroke-width="2.1"/>
<line x1="332.70" y1="2324.74" x2="332.70" y2="2352.59" stroke="#00FDFF" stroke-width="2.1"/>
<line x1="326.70" y1="2324.74" x2="338.70" y2="2324.74" stroke="#00FDFF" stroke-width="2.1"/>
<line x1="326.70" y1="2352.59" x2="338.70" y2="2352.59" stroke="#00FDFF" stroke-width="2.1"/>
<line x1="371.08" y1="2283.52" x2="371.08" y2="2304.69" stroke="#00FDFF" stroke-width="2.1"/>
<line x1="365.08" y1="2283.52" x2="377.08" y2="2283.52" stroke="#00FDFF" stroke-width="2.1"/>
<line x1="365.08" y1="2304.69" x2="377.08" y2="2304.69" stroke="#00FDFF" stroke-width="2.1"/>
<line x1="409.46" y1="2237.29" x2="409.46" y2="2270.71" stroke="#00FDFF" stroke-width="2.1"/>
<line x1="403.46" y1="2237.29" x2="415.46" y2="2237.29" stroke="#00FDFF" stroke-width="2.1"/>
<line x1="403.46" y1="2270.71" x2="415.46" y2="2270.71" stroke="#00FDFF" stroke-width="2.1"/>
<polyline points="140.8,2425.9 179.2,2416.0 217.6,2402.2 255.9,2375.8 294.3,2358.7 332.7,2338.7 371.1,2294.1 409.5,2254.0" fill="none" stroke="#00FDFF" stroke-width="5.0" stroke-linejoin="round" stroke-linecap="round"/>
<circle cx="140.80" cy="2425.89" r="5.3" fill="#00FDFF"/>
<circle cx="179.18" cy="2415.98" r="5.3" fill="#00FDFF"/>
<circle cx="217.56" cy="2402.17" r="5.3" fill="#00FDFF"/>
<circle cx="255.94" cy="2375.76" r="5.3" fill="#00FDFF"/>
<circle cx="294.32" cy="2358.72" r="5.3" fill="#00FDFF"/>
<circle cx="332.70" cy="2338.67" r="5.3" fill="#00FDFF"/>
<circle cx="371.08" cy="2294.11" r="5.3" fill="#00FDFF"/>
<circle cx="409.46" cy="2254.00" r="5.3" fill="#00FDFF"/>
<line x1="179.18" y1="2414.31" x2="179.18" y2="2417.65" stroke="#0433FF" stroke-width="2.1"/>
<line x1="173.18" y1="2414.31" x2="185.18" y2="2414.31" stroke="#0433FF" stroke-width="2.1"/>
<line x1="173.18" y1="2417.65" x2="185.18" y2="2417.65" stroke="#0433FF" stroke-width="2.1"/>
<line x1="217.56" y1="2380.55" x2="217.56" y2="2393.92" stroke="#0433FF" stroke-width="2.1"/>
<line x1="211.56" y1="2380.55" x2="223.56" y2="2380.55" stroke="#0433FF" stroke-width="2.1"/>
<line x1="211.56" y1="2393.92" x2="223.56" y2="2393.92" stroke="#0433FF" stroke-width="2.1"/>
<line x1="255.94" y1="2320.18" x2="255.94" y2="2355.82" stroke="#0433FF" stroke-width="2.1"/>
<line x1="249.94" y1="2320.18" x2="261.94" y2="2320.18" stroke="#0433FF" stroke-width="2.1"/>
<line x1="249.94" y1="2355.82" x2="261.94" y2="2355.82" stroke="#0433FF" stroke-width="2.1"/>
<line x1="294.32" y1="2243.42" x2="294.32" y2="2293.55" stroke="#0433FF" stroke-width="2.1"/>
<line x1="288.32" y1="2243.42" x2="300.32" y2="2243.42" stroke="#0433FF" stroke-width="2.1"/>
<line x1="288.32" y1="2293.55" x2="300.32" y2="2293.55" stroke="#0433FF" stroke-width="2.1"/>
<polyline points="140.8,2425.9 179.2,2416.0 217.6,2387.2 255.9,2338.0 294.3,2268.5" fill="none" stroke="#0433FF" stroke-width="5.0" stroke-linejoin="round" stroke-linecap="round"/>
<circle cx="140.80" cy="2425.89" r="5.3" fill="#0433FF"/>
<circle cx="179.18" cy="2415.98" r="5.3" fill="#0433FF"/>
<circle cx="217.56" cy="2387.24" r="5.3" fill="#0433FF"/>
<circle cx="255.94" cy="2338.00" r="5.3" fill="#0433FF"/>
<circle cx="294.32" cy="2268.49" r="5.3" fill="#0433FF"/>
<rect x="138.00" y="2180.70" width="5.60" height="265.00" fill="#000"/>
<rect x="131.50" y="2433.90" width="339.00" height="5.60" fill="#000"/>
<rect x="138.00" y="2436.00" width="5.60" height="10.00" fill="#000"/>
<text font-size="31" text-anchor="middle" font-weight="bold" transform="translate(140.8 2481.3) scale(1.03,1)">0</text>
<rect x="233.95" y="2436.00" width="5.60" height="10.00" fill="#000"/>
<text font-size="31" text-anchor="middle" font-weight="bold" transform="translate(236.8 2481.3) scale(1.03,1)">5</text>
<rect x="329.90" y="2436.00" width="5.60" height="10.00" fill="#000"/>
<text font-size="31" text-anchor="middle" font-weight="bold" transform="translate(332.7 2481.3) scale(1.03,1)">10</text>
<rect x="425.85" y="2436.00" width="5.60" height="10.00" fill="#000"/>
<text font-size="31" text-anchor="middle" font-weight="bold" transform="translate(428.7 2481.3) scale(1.03,1)">15</text>
<rect x="131.50" y="2433.90" width="8.00" height="5.60" fill="#000"/>
<text font-size="31" text-anchor="end" font-weight="bold" transform="translate(123.5 2446.3) scale(1.03,1)">0</text>
<rect x="131.50" y="2378.20" width="8.00" height="5.60" fill="#000"/>
<text font-size="31" text-anchor="end" font-weight="bold" transform="translate(123.5 2390.6) scale(1.03,1)">5</text>
<rect x="131.50" y="2322.50" width="8.00" height="5.60" fill="#000"/>
<text font-size="31" text-anchor="end" font-weight="bold" transform="translate(123.5 2334.9) scale(1.03,1)">10</text>
<rect x="131.50" y="2266.80" width="8.00" height="5.60" fill="#000"/>
<text font-size="31" text-anchor="end" font-weight="bold" transform="translate(123.5 2279.2) scale(1.03,1)">15</text>
<rect x="131.50" y="2211.10" width="8.00" height="5.60" fill="#000"/>
<text font-size="31" text-anchor="end" font-weight="bold" transform="translate(123.5 2223.5) scale(1.03,1)">20</text>
<line x1="179.18" y1="2414.31" x2="179.18" y2="2417.65" stroke="#000" stroke-width="2.1"/>
<line x1="173.18" y1="2414.31" x2="185.18" y2="2414.31" stroke="#000" stroke-width="2.1"/>
<line x1="173.18" y1="2417.65" x2="185.18" y2="2417.65" stroke="#000" stroke-width="2.1"/>
<line x1="217.56" y1="2400.27" x2="217.56" y2="2406.96" stroke="#000" stroke-width="2.1"/>
<line x1="211.56" y1="2400.27" x2="223.56" y2="2400.27" stroke="#000" stroke-width="2.1"/>
<line x1="211.56" y1="2406.96" x2="223.56" y2="2406.96" stroke="#000" stroke-width="2.1"/>
<line x1="255.94" y1="2360.61" x2="255.94" y2="2367.30" stroke="#000" stroke-width="2.1"/>
<line x1="249.94" y1="2360.61" x2="261.94" y2="2360.61" stroke="#000" stroke-width="2.1"/>
<line x1="249.94" y1="2367.30" x2="261.94" y2="2367.30" stroke="#000" stroke-width="2.1"/>
<line x1="294.32" y1="2310.26" x2="294.32" y2="2331.43" stroke="#000" stroke-width="2.1"/>
<line x1="288.32" y1="2310.26" x2="300.32" y2="2310.26" stroke="#000" stroke-width="2.1"/>
<line x1="288.32" y1="2331.43" x2="300.32" y2="2331.43" stroke="#000" stroke-width="2.1"/>
<line x1="332.70" y1="2237.29" x2="332.70" y2="2277.40" stroke="#000" stroke-width="2.1"/>
<line x1="326.70" y1="2237.29" x2="338.70" y2="2237.29" stroke="#000" stroke-width="2.1"/>
<line x1="326.70" y1="2277.40" x2="338.70" y2="2277.40" stroke="#000" stroke-width="2.1"/>
<polyline points="140.8,2425.9 179.2,2416.0 217.6,2403.6 255.9,2364.0 294.3,2320.8 332.7,2257.3" fill="none" stroke="#000" stroke-width="5.0" stroke-linejoin="round" stroke-linecap="round"/>
<circle cx="140.80" cy="2425.89" r="5.3" fill="#000"/>
<circle cx="179.18" cy="2415.98" r="5.3" fill="#000"/>
<circle cx="217.56" cy="2403.61" r="5.3" fill="#000"/>
<circle cx="255.94" cy="2363.96" r="5.3" fill="#000"/>
<circle cx="294.32" cy="2320.84" r="5.3" fill="#000"/>
<circle cx="332.70" cy="2257.35" r="5.3" fill="#000"/>
<text x="291.0" y="2515.0" font-size="31" text-anchor="middle" font-weight="bold">Days post treatment</text>
<text x="65.0" y="2320.0" font-size="31" text-anchor="middle" font-weight="bold" transform="rotate(-90 65.0 2320.0)">Relative tumor size</text>
<text x="481.0" y="2190.7" font-size="31.5" font-weight="bold">DMSO (N=6)</text>
<text x="482.3" y="2256.7" font-size="31.5" font-weight="bold" fill="#00FDFF">ABBV (N=6)</text>
<text x="482.3" y="2323.0" font-size="31.5" font-weight="bold" fill="#0433FF">VT103 (N=6)</text>
<text x="482.3" y="2388.5" font-size="31.5" font-weight="bold" fill="#E6007E">A+V (N=6)</text>
<line x1="676.90" y1="2170.30" x2="676.90" y2="2320.40" stroke="#231F20" stroke-width="3.2"/>
<line x1="676.90" y1="2330.30" x2="676.90" y2="2391.10" stroke="#231F20" stroke-width="3.2"/>
<line x1="724.00" y1="2260.10" x2="724.00" y2="2320.40" stroke="#231F20" stroke-width="3.2"/>
<line x1="770.90" y1="2172.40" x2="770.90" y2="2393.70" stroke="#231F20" stroke-width="3.2"/>
<line x1="817.50" y1="2169.80" x2="817.50" y2="2247.60" stroke="#231F20" stroke-width="3.2"/>
<line x1="817.50" y1="2257.50" x2="817.50" y2="2393.70" stroke="#231F20" stroke-width="3.2"/>
<text x="704.9" y="2292.5" font-size="23.4" fill="#231F20" transform="rotate(-90 704.9 2292.5)">p=0.0057</text>
<text x="704.9" y="2423.5" font-size="23.4" fill="#231F20" transform="rotate(-90 704.9 2423.5)">p=0.0001</text>
<text x="752.8" y="2321.4" font-size="23.4" fill="#231F20" transform="rotate(-90 752.8 2321.4)">p=0.0012</text>
<text x="797.9" y="2345.0" font-size="23.4" fill="#231F20" transform="rotate(-90 797.9 2345.0)">p=0.0003</text>
<text x="844.5" y="2243.5" font-size="23.4" fill="#231F20" transform="rotate(-90 844.5 2243.5)">p=0.0015</text>
<text x="844.5" y="2377.7" font-size="23.4" fill="#231F20" transform="rotate(-90 844.5 2377.7)">p=0.0025</text>
<text x="899.0" y="1814.0" font-size="64" font-weight="bold">f</text>
<defs><filter id="bl" x="-30%" y="-30%" width="160%" height="160%"><feGaussianBlur stdDeviation="2.9"/></filter></defs>
<text font-size="31" text-anchor="middle" font-weight="bold" fill="#231F20" transform="translate(1042.7 1851.2) scale(1.04,1)">#6547-2</text>
<line x1="993.80" y1="1865.60" x2="1092.80" y2="1865.60" stroke="#231F20" stroke-width="3"/>
<text font-size="31" text-anchor="middle" font-weight="bold" fill="#231F20" transform="translate(1167.5 1851.2) scale(1.04,1)">#6055-2</text>
<line x1="1118.20" y1="1865.60" x2="1217.20" y2="1865.60" stroke="#231F20" stroke-width="3"/>
<text font-size="31" text-anchor="middle" font-weight="bold" fill="#231F20" transform="translate(1287.0 1851.2) scale(1.04,1)">#6597</text>
<line x1="1237.40" y1="1865.60" x2="1336.40" y2="1865.60" stroke="#231F20" stroke-width="3"/>
<text font-size="31" text-anchor="middle" font-weight="bold" fill="#231F20" transform="translate(1404.0 1851.2) scale(1.04,1)">#5462</text>
<line x1="1354.80" y1="1865.60" x2="1454.50" y2="1865.60" stroke="#231F20" stroke-width="3"/>
<text font-size="31" text-anchor="middle" font-weight="bold" fill="#231F20" transform="translate(1523.4 1851.2) scale(1.04,1)">#6134</text>
<line x1="1473.90" y1="1865.60" x2="1573.60" y2="1865.60" stroke="#231F20" stroke-width="3"/>
<text font-size="31" text-anchor="middle" font-weight="bold" fill="#231F20" transform="translate(1642.0 1851.2) scale(1.04,1)">#6394</text>
<line x1="1592.60" y1="1865.60" x2="1692.40" y2="1865.60" stroke="#231F20" stroke-width="3"/>
<text font-size="31" text-anchor="middle" font-weight="bold" fill="#231F20" transform="translate(1762.0 1851.2) scale(1.04,1)">#6139</text>
<line x1="1713.50" y1="1865.60" x2="1812.90" y2="1865.60" stroke="#231F20" stroke-width="3"/>
<rect x="1014.30" y="1890.50" width="11.00" height="5.50" fill="#231F20"/>
<rect x="1059.30" y="1890.20" width="20.00" height="5.60" fill="#231F20"/>
<rect x="1066.50" y="1883.00" width="5.60" height="20.00" fill="#231F20"/>
<rect x="1136.80" y="1890.50" width="11.00" height="5.50" fill="#231F20"/>
<rect x="1181.50" y="1890.20" width="20.00" height="5.60" fill="#231F20"/>
<rect x="1188.70" y="1883.00" width="5.60" height="20.00" fill="#231F20"/>
<rect x="1256.60" y="1890.50" width="11.00" height="5.50" fill="#231F20"/>
<rect x="1301.60" y="1890.20" width="20.00" height="5.60" fill="#231F20"/>
<rect x="1308.80" y="1883.00" width="5.60" height="20.00" fill="#231F20"/>
<rect x="1373.80" y="1890.50" width="11.00" height="5.50" fill="#231F20"/>
<rect x="1418.10" y="1890.20" width="20.00" height="5.60" fill="#231F20"/>
<rect x="1425.30" y="1883.00" width="5.60" height="20.00" fill="#231F20"/>
<rect x="1490.20" y="1890.50" width="11.00" height="5.50" fill="#231F20"/>
<rect x="1535.40" y="1890.20" width="20.00" height="5.60" fill="#231F20"/>
<rect x="1542.60" y="1883.00" width="5.60" height="20.00" fill="#231F20"/>
<rect x="1612.90" y="1890.50" width="11.00" height="5.50" fill="#231F20"/>
<rect x="1657.70" y="1890.20" width="20.00" height="5.60" fill="#231F20"/>
<rect x="1664.90" y="1883.00" width="5.60" height="20.00" fill="#231F20"/>
<rect x="1729.10" y="1890.50" width="11.00" height="5.50" fill="#231F20"/>
<rect x="1774.00" y="1890.20" width="20.00" height="5.60" fill="#231F20"/>
<rect x="1781.20" y="1883.00" width="5.60" height="20.00" fill="#231F20"/>
<text x="967.8" y="1938.0" font-size="23.5" text-anchor="end" font-weight="bold" fill="#231F20">50</text>
<rect x="972.00" y="1927.70" width="18.00" height="3.20" fill="#231F20"/>
<text x="967.8" y="1999.0" font-size="23.5" text-anchor="end" font-weight="bold" fill="#231F20">37</text>
<rect x="972.00" y="1988.40" width="18.00" height="3.20" fill="#231F20"/>
<text x="967.8" y="2059.6" font-size="23.5" text-anchor="end" font-weight="bold" fill="#231F20">100</text>
<rect x="972.00" y="2054.90" width="18.00" height="3.20" fill="#231F20"/>
<text x="967.8" y="2112.2" font-size="23.5" text-anchor="end" font-weight="bold" fill="#231F20">20</text>
<rect x="972.00" y="2100.40" width="18.00" height="3.20" fill="#231F20"/>
<text x="967.8" y="2190.0" font-size="23.5" text-anchor="end" font-weight="bold" fill="#231F20">50</text>
<rect x="972.00" y="2178.60" width="18.00" height="3.20" fill="#231F20"/>
<text x="967.8" y="2252.0" font-size="23.5" text-anchor="end" font-weight="bold" fill="#231F20">50</text>
<rect x="972.00" y="2244.20" width="18.00" height="3.20" fill="#231F20"/>
<text x="967.8" y="2296.3" font-size="23.5" text-anchor="end" font-weight="bold" fill="#231F20">75</text>
<rect x="972.00" y="2288.50" width="18.00" height="3.20" fill="#231F20"/>
<text x="967.8" y="2344.9" font-size="23.5" text-anchor="end" font-weight="bold" fill="#231F20">50</text>
<rect x="972.00" y="2338.00" width="18.00" height="3.20" fill="#231F20"/>
<text x="967.8" y="2365.3" font-size="23.5" text-anchor="end" font-weight="bold" fill="#231F20">50</text>
<rect x="972.00" y="2356.60" width="18.00" height="3.20" fill="#231F20"/>
<text x="967.8" y="2432.5" font-size="23.5" text-anchor="end" font-weight="bold" fill="#231F20">150</text>
<rect x="972.00" y="2424.70" width="18.00" height="3.20" fill="#231F20"/>
<text x="967.8" y="2475.8" font-size="23.5" text-anchor="end" font-weight="bold" fill="#231F20">100</text>
<rect x="972.00" y="2468.90" width="18.00" height="3.20" fill="#231F20"/>
<text font-size="30.5" font-weight="bold" fill="#231F20" transform="translate(1835.5 1898.0) scale(1.05,1)">ABBV</text>
<text font-size="30.5" font-weight="bold" fill="#231F20" transform="translate(1835.5 1949.8) scale(1.05,1)">Jun</text>
<text font-size="30.5" font-weight="bold" fill="#231F20" transform="translate(1835.5 2010.4) scale(1.05,1)">Sox2</text>
<text font-size="30.5" font-weight="bold" fill="#231F20" transform="translate(1835.5 2071.3) scale(1.05,1)">Sox5</text>
<text font-size="30.5" font-weight="bold" fill="#231F20" transform="translate(1835.5 2134.8) scale(1.05,1)">Twist2</text>
<text font-size="30.5" font-weight="bold" fill="#231F20" transform="translate(1835.5 2197.4) scale(1.05,1)">Nr2f1</text>
<text font-size="30.5" font-weight="bold" fill="#231F20" transform="translate(1835.5 2258.7) scale(1.05,1)">Nr2f2</text>
<text font-size="30.5" font-weight="bold" fill="#231F20" transform="translate(1835.5 2323.2) scale(1.05,1)">Myc</text>
<text font-size="30.5" font-weight="bold" fill="#231F20" transform="translate(1835.5 2393.0) scale(1.05,1)">Ets1</text>
<text font-size="30.5" font-weight="bold" fill="#231F20" transform="translate(1835.5 2458.9) scale(1.05,1)">Vinc</text>
<text font-size="30.5" font-weight="bold" fill="#231F20" transform="translate(1835.5 2514.6) scale(1.05,1)">PTF</text>
<clipPath id="k1"><rect x="989.1" y="1912.5" width="109.0" height="51.9"/></clipPath>
<rect x="989.10" y="1912.50" width="109.00" height="51.90" fill="#818181"/>
<g clip-path="url(#k1)"><g filter="url(#bl)">
<rect x="1014.8" y="1932.0" width="18.0" height="8.0" rx="4.8" ry="3.8" fill="#0c0c0c" fill-opacity="0.4"/>
<rect x="1060.3" y="1934.0" width="18.0" height="6.0" rx="3.6" ry="2.8" fill="#0c0c0c" fill-opacity="0.1"/>
</g></g>
<clipPath id="k2"><rect x="1108.9" y="1912.5" width="113.0" height="51.9"/></clipPath>
<rect x="1108.90" y="1912.50" width="113.00" height="51.90" fill="#7A7A7A"/>
<g clip-path="url(#k2)"><g filter="url(#bl)">
<rect x="1120.0" y="1932.2" width="38.0" height="9.6" rx="5.8" ry="4.6" fill="#0c0c0c" fill-opacity="0.58"/>
<rect x="1178.0" y="1932.4" width="40.0" height="8.0" rx="4.8" ry="3.8" fill="#0c0c0c" fill-opacity="0.36"/>
</g></g>
<clipPath id="k3"><rect x="1233.0" y="1912.5" width="103.4" height="51.9"/></clipPath>
<rect x="1233.00" y="1912.50" width="103.40" height="51.90" fill="#797979"/>
<g clip-path="url(#k3)"><g filter="url(#bl)">
<rect x="1234.0" y="1921.6" width="54.1" height="34.2" rx="20.5" ry="16.3" fill="#0c0c0c" fill-opacity="1"/>
<rect x="1288.6" y="1927.3" width="48.9" height="26.5" rx="15.9" ry="12.6" fill="#0c0c0c" fill-opacity="0.97"/>
</g></g>
<clipPath id="k4"><rect x="1347.5" y="1912.5" width="111.6" height="51.9"/></clipPath>
<rect x="1347.50" y="1912.50" width="111.60" height="51.90" fill="#797979"/>
<g clip-path="url(#k4)"><g filter="url(#bl)">
<rect x="1347.9" y="1920.0" width="57.2" height="37.5" rx="22.5" ry="17.8" fill="#0c0c0c" fill-opacity="1"/>
<rect x="1406.0" y="1929.1" width="49.9" height="26.5" rx="15.9" ry="12.6" fill="#0c0c0c" fill-opacity="0.93"/>
</g></g>
<clipPath id="k5"><rect x="1470.4" y="1912.5" width="103.1" height="51.9"/></clipPath>
<rect x="1470.40" y="1912.50" width="103.10" height="51.90" fill="#7A7A7A"/>
<g clip-path="url(#k5)"><g filter="url(#bl)">
<rect x="1477.8" y="1931.0" width="38.0" height="16.0" rx="9.6" ry="7.6" fill="#0c0c0c" fill-opacity="0.55"/>
<rect x="1532.9" y="1937.0" width="30.0" height="10.0" rx="6.0" ry="4.8" fill="#0c0c0c" fill-opacity="0.4"/>
</g></g>
<clipPath id="k6"><rect x="1584.9" y="1912.5" width="111.0" height="51.9"/></clipPath>
<rect x="1584.90" y="1912.50" width="111.00" height="51.90" fill="#7A7A7A"/>
<g clip-path="url(#k6)"><g filter="url(#bl)">
<rect x="1593.0" y="1922.8" width="43.7" height="36.4" rx="21.8" ry="17.3" fill="#0c0c0c" fill-opacity="0.95"/>
<rect x="1649.7" y="1932.5" width="36.0" height="24.0" rx="14.4" ry="11.4" fill="#0c0c0c" fill-opacity="0.55"/>
</g></g>
<clipPath id="k7"><rect x="1707.0" y="1912.5" width="110.5" height="51.9"/></clipPath>
<rect x="1707.00" y="1912.50" width="110.50" height="51.90" fill="#7D7D7D"/>
<g clip-path="url(#k7)"><g filter="url(#bl)">
<rect x="1710.2" y="1921.6" width="46.8" height="34.2" rx="20.5" ry="16.3" fill="#0c0c0c" fill-opacity="0.96"/>
<rect x="1771.3" y="1930.0" width="36.0" height="22.0" rx="13.2" ry="10.4" fill="#0c0c0c" fill-opacity="0.3"/>
</g></g>
<clipPath id="k8"><rect x="989.1" y="1976.0" width="109.0" height="48.6"/></clipPath>
<rect x="989.10" y="1976.00" width="109.00" height="48.60" fill="#797979"/>
<g clip-path="url(#k8)"><g filter="url(#bl)">
<rect x="989.3" y="1989.2" width="58.9" height="26.5" rx="15.9" ry="12.6" fill="#0c0c0c" fill-opacity="1"/>
<rect x="1049.2" y="1996.4" width="41.6" height="11.1" rx="6.7" ry="5.3" fill="#0c0c0c" fill-opacity="0.8"/>
</g></g>
<clipPath id="k9"><rect x="1108.9" y="1976.0" width="113.0" height="48.6"/></clipPath>
<rect x="1108.90" y="1976.00" width="113.00" height="48.60" fill="#545454"/>
<g clip-path="url(#k9)"><g filter="url(#bl)">
<rect x="1117.4" y="1990.0" width="52.6" height="24.0" rx="14.4" ry="11.4" fill="#0c0c0c" fill-opacity="0.97"/>
</g></g>
<clipPath id="k10"><rect x="1233.0" y="1976.0" width="103.4" height="48.6"/></clipPath>
<rect x="1233.00" y="1976.00" width="103.40" height="48.60" fill="#818181"/>
<clipPath id="k11"><rect x="1347.5" y="1976.0" width="111.6" height="48.6"/></clipPath>
<rect x="1347.50" y="1976.00" width="111.60" height="48.60" fill="#797979"/>
<g clip-path="url(#k11)"><g filter="url(#bl)">
<rect x="1349.1" y="1990.0" width="48.9" height="20.8" rx="12.5" ry="9.9" fill="#0c0c0c" fill-opacity="0.97"/>
<rect x="1403.0" y="1990.9" width="51.2" height="17.5" rx="10.5" ry="8.3" fill="#0c0c0c" fill-opacity="0.97"/>
</g></g>
<clipPath id="k12"><rect x="1470.4" y="1976.0" width="103.1" height="48.6"/></clipPath>
<rect x="1470.40" y="1976.00" width="103.10" height="48.60" fill="#797979"/>
<g clip-path="url(#k12)"><g filter="url(#bl)">
<rect x="1478.6" y="1986.2" width="54.1" height="25.7" rx="15.4" ry="12.2" fill="#0c0c0c" fill-opacity="1"/>
<rect x="1553.5" y="1997.6" width="10.0" height="8.0" rx="4.8" ry="3.8" fill="#0c0c0c" fill-opacity="0.2"/>
</g></g>
<clipPath id="k13"><rect x="1584.9" y="1976.0" width="111.0" height="48.6"/></clipPath>
<rect x="1584.90" y="1976.00" width="111.00" height="48.60" fill="#797979"/>
<g clip-path="url(#k13)"><g filter="url(#bl)">
<rect x="1591.9" y="1993.0" width="45.8" height="21.4" rx="12.8" ry="10.2" fill="#0c0c0c" fill-opacity="0.97"/>
</g></g>
<clipPath id="k14"><rect x="1707.0" y="1976.0" width="110.5" height="48.6"/></clipPath>
<rect x="1707.00" y="1976.00" width="110.50" height="48.60" fill="#797979"/>
<g clip-path="url(#k14)"><g filter="url(#bl)">
<rect x="1705.5" y="1984.4" width="58.2" height="36.4" rx="21.8" ry="17.3" fill="#0c0c0c" fill-opacity="1"/>
<rect x="1761.5" y="1994.8" width="52.0" height="19.3" rx="11.6" ry="9.1" fill="#0c0c0c" fill-opacity="0.95"/>
</g></g>
<clipPath id="k15"><rect x="989.1" y="2036.0" width="109.0" height="50.5"/></clipPath>
<rect x="989.10" y="2036.00" width="109.00" height="50.50" fill="#7D7D7D"/>
<g clip-path="url(#k15)"><g filter="url(#bl)">
<rect x="999.4" y="2056.0" width="37.2" height="11.0" rx="6.6" ry="5.2" fill="#0c0c0c" fill-opacity="0.5"/>
<rect x="1000.0" y="2076.0" width="32.0" height="6.0" rx="3.6" ry="2.8" fill="#0c0c0c" fill-opacity="0.12"/>
</g></g>
<clipPath id="k16"><rect x="1108.9" y="2036.0" width="113.0" height="50.5"/></clipPath>
<rect x="1108.90" y="2036.00" width="113.00" height="50.50" fill="#5D5D5D"/>
<g clip-path="url(#k16)"><g filter="url(#bl)">
<rect x="1121.3" y="2056.6" width="34.0" height="6.0" rx="3.6" ry="2.8" fill="#0c0c0c" fill-opacity="0.35"/>
<rect x="1121.3" y="2077.3" width="34.0" height="6.0" rx="3.6" ry="2.8" fill="#0c0c0c" fill-opacity="0.25"/>
<rect x="1177.5" y="2058.2" width="30.0" height="4.0" rx="2.4" ry="1.9" fill="#0c0c0c" fill-opacity="0.2"/>
</g></g>
<clipPath id="k17"><rect x="1233.0" y="2036.0" width="103.4" height="50.5"/></clipPath>
<rect x="1233.00" y="2036.00" width="103.40" height="50.50" fill="#797979"/>
<g clip-path="url(#k17)"><g filter="url(#bl)">
<rect x="1233.4" y="2032.1" width="57.2" height="57.8" rx="28.6" ry="27.4" fill="#0c0c0c" fill-opacity="1"/>
<rect x="1288.6" y="2051.2" width="46.8" height="17.5" rx="10.5" ry="8.3" fill="#0c0c0c" fill-opacity="0.97"/>
</g></g>
<clipPath id="k18"><rect x="1347.5" y="2036.0" width="111.6" height="50.5"/></clipPath>
<rect x="1347.50" y="2036.00" width="111.60" height="50.50" fill="#797979"/>
<g clip-path="url(#k18)"><g filter="url(#bl)">
<rect x="1351.2" y="2055.6" width="43.3" height="20.8" rx="12.5" ry="9.9" fill="#0c0c0c" fill-opacity="0.8"/>
<rect x="1418.4" y="2068.6" width="30.0" height="4.0" rx="2.4" ry="1.9" fill="#0c0c0c" fill-opacity="0.1"/>
</g></g>
<clipPath id="k19"><rect x="1470.4" y="2036.0" width="103.1" height="50.5"/></clipPath>
<rect x="1470.40" y="2036.00" width="103.10" height="50.50" fill="#7D7D7D"/>
<g clip-path="url(#k19)"><g filter="url(#bl)">
<rect x="1474.7" y="2039.0" width="47.8" height="36.4" rx="21.8" ry="17.3" fill="#0c0c0c" fill-opacity="1"/>
<rect x="1538.5" y="2056.4" width="16.6" height="17.1" rx="8.3" ry="8.1" fill="#0c0c0c" fill-opacity="0.97"/>
</g></g>
<clipPath id="k20"><rect x="1584.9" y="2036.0" width="111.0" height="50.5"/></clipPath>
<rect x="1584.90" y="2036.00" width="111.00" height="50.50" fill="#676767"/>
<g clip-path="url(#k20)"><g filter="url(#bl)">
<rect x="1588.1" y="2038.7" width="49.9" height="40.7" rx="24.4" ry="19.3" fill="#0c0c0c" fill-opacity="1"/>
<rect x="1655.5" y="2068.1" width="28.0" height="5.0" rx="3.0" ry="2.4" fill="#0c0c0c" fill-opacity="0.4"/>
</g></g>
<clipPath id="k21"><rect x="1707.0" y="2036.0" width="110.5" height="50.5"/></clipPath>
<rect x="1707.00" y="2036.00" width="110.50" height="50.50" fill="#7D7D7D"/>
<g clip-path="url(#k21)"><g filter="url(#bl)">
<rect x="1710.0" y="2045.7" width="49.9" height="30.0" rx="18.0" ry="14.2" fill="#0c0c0c" fill-opacity="0.93"/>
<rect x="1777.5" y="2064.9" width="34.0" height="4.4" rx="2.6" ry="2.1" fill="#0c0c0c" fill-opacity="0.32"/>
</g></g>
<clipPath id="k22"><rect x="989.1" y="2098.0" width="109.0" height="50.6"/></clipPath>
<rect x="989.10" y="2098.00" width="109.00" height="50.60" fill="#797979"/>
<g clip-path="url(#k22)"><g filter="url(#bl)">
<rect x="993.8" y="2105.7" width="55.7" height="35.1" rx="21.1" ry="16.7" fill="#0c0c0c" fill-opacity="1"/>
<rect x="1051.4" y="2122.0" width="32.8" height="10.0" rx="6.0" ry="4.8" fill="#0c0c0c" fill-opacity="0.5"/>
</g></g>
<clipPath id="k23"><rect x="1108.9" y="2098.0" width="113.0" height="50.6"/></clipPath>
<rect x="1108.90" y="2098.00" width="113.00" height="50.60" fill="#707070"/>
<g clip-path="url(#k23)"><g filter="url(#bl)">
<rect x="1118.9" y="2107.4" width="40.1" height="28.7" rx="17.2" ry="13.6" fill="#0c0c0c" fill-opacity="0.88"/>
<rect x="1170.5" y="2118.6" width="35.6" height="14.8" rx="8.9" ry="7.0" fill="#0c0c0c" fill-opacity="0.6"/>
</g></g>
<clipPath id="k24"><rect x="1233.0" y="2098.0" width="103.4" height="50.6"/></clipPath>
<rect x="1233.00" y="2098.00" width="103.40" height="50.60" fill="#747474"/>
<g clip-path="url(#k24)"><g filter="url(#bl)">
<rect x="1233.4" y="2112.7" width="57.2" height="25.7" rx="15.4" ry="12.2" fill="#0c0c0c" fill-opacity="1"/>
<rect x="1293.2" y="2117.4" width="38.7" height="17.1" rx="10.3" ry="8.1" fill="#0c0c0c" fill-opacity="0.95"/>
</g></g>
<clipPath id="k25"><rect x="1347.5" y="2098.0" width="111.6" height="50.6"/></clipPath>
<rect x="1347.50" y="2098.00" width="111.60" height="50.60" fill="#797979"/>
<g clip-path="url(#k25)"><g filter="url(#bl)">
<rect x="1347.9" y="2107.2" width="57.2" height="35.1" rx="21.1" ry="16.7" fill="#0c0c0c" fill-opacity="1"/>
<rect x="1404.7" y="2113.2" width="52.6" height="25.7" rx="15.4" ry="12.2" fill="#0c0c0c" fill-opacity="0.97"/>
</g></g>
<clipPath id="k26"><rect x="1470.4" y="2098.0" width="103.1" height="50.6"/></clipPath>
<rect x="1470.40" y="2098.00" width="103.10" height="50.60" fill="#797979"/>
<g clip-path="url(#k26)"><g filter="url(#bl)">
<rect x="1478.0" y="2105.7" width="53.0" height="34.2" rx="20.5" ry="16.3" fill="#0c0c0c" fill-opacity="0.97"/>
<rect x="1541.4" y="2115.3" width="33.3" height="22.5" rx="13.5" ry="10.7" fill="#0c0c0c" fill-opacity="0.9"/>
</g></g>
<clipPath id="k27"><rect x="1584.9" y="2098.0" width="111.0" height="50.6"/></clipPath>
<rect x="1584.90" y="2098.00" width="111.00" height="50.60" fill="#747474"/>
<g clip-path="url(#k27)"><g filter="url(#bl)">
<rect x="1588.8" y="2106.0" width="52.0" height="36.4" rx="21.8" ry="17.3" fill="#0c0c0c" fill-opacity="1"/>
<rect x="1647.2" y="2122.0" width="37.4" height="15.0" rx="9.0" ry="7.1" fill="#0c0c0c" fill-opacity="0.92"/>
</g></g>
<clipPath id="k28"><rect x="1707.0" y="2098.0" width="110.5" height="50.6"/></clipPath>
<rect x="1707.00" y="2098.00" width="110.50" height="50.60" fill="#797979"/>
<g clip-path="url(#k28)"><g filter="url(#bl)">
<rect x="1704.9" y="2104.9" width="66.6" height="38.5" rx="23.1" ry="18.3" fill="#0c0c0c" fill-opacity="1"/>
<rect x="1764.3" y="2113.2" width="49.9" height="25.7" rx="15.4" ry="12.2" fill="#0c0c0c" fill-opacity="0.97"/>
</g></g>
<clipPath id="k29"><rect x="989.1" y="2160.1" width="109.0" height="50.4"/></clipPath>
<rect x="989.10" y="2160.10" width="109.00" height="50.40" fill="#7D7D7D"/>
<g clip-path="url(#k29)"><g filter="url(#bl)">
<rect x="997.9" y="2175.5" width="37.2" height="22.0" rx="13.2" ry="10.4" fill="#0c0c0c" fill-opacity="0.45"/>
</g></g>
<clipPath id="k30"><rect x="1108.9" y="2160.1" width="113.0" height="50.4"/></clipPath>
<rect x="1108.90" y="2160.10" width="113.00" height="50.40" fill="#797979"/>
<g clip-path="url(#k30)"><g filter="url(#bl)">
<rect x="1119.6" y="2180.0" width="32.8" height="16.0" rx="9.6" ry="7.6" fill="#0c0c0c" fill-opacity="0.6"/>
<rect x="1173.4" y="2175.3" width="31.2" height="19.4" rx="11.6" ry="9.2" fill="#0c0c0c" fill-opacity="0.6"/>
</g></g>
<clipPath id="k31"><rect x="1233.0" y="2160.1" width="103.4" height="50.4"/></clipPath>
<rect x="1233.00" y="2160.10" width="103.40" height="50.40" fill="#676767"/>
<g clip-path="url(#k31)"><g filter="url(#bl)">
<rect x="1250.8" y="2178.7" width="12.0" height="20.0" rx="6.0" ry="9.5" fill="#0c0c0c" fill-opacity="0.4"/>
<rect x="1299.0" y="2180.7" width="22.0" height="16.0" rx="9.6" ry="7.6" fill="#0c0c0c" fill-opacity="0.5"/>
</g></g>
<clipPath id="k32"><rect x="1347.5" y="2160.1" width="111.6" height="50.4"/></clipPath>
<rect x="1347.50" y="2160.10" width="111.60" height="50.40" fill="#747474"/>
<g clip-path="url(#k32)"><g filter="url(#bl)">
<rect x="1352.3" y="2168.1" width="42.6" height="41.7" rx="21.3" ry="19.8" fill="#0c0c0c" fill-opacity="1"/>
<rect x="1408.7" y="2173.6" width="38.6" height="26.8" rx="16.1" ry="12.7" fill="#0c0c0c" fill-opacity="0.6"/>
</g></g>
<clipPath id="k33"><rect x="1470.4" y="2160.1" width="103.1" height="50.4"/></clipPath>
<rect x="1470.40" y="2160.10" width="103.10" height="50.40" fill="#747474"/>
<g clip-path="url(#k33)"><g filter="url(#bl)">
<rect x="1481.3" y="2172.6" width="41.6" height="30.0" rx="18.0" ry="14.2" fill="#0c0c0c" fill-opacity="0.97"/>
<rect x="1525.0" y="2166.5" width="45.8" height="38.5" rx="22.9" ry="18.3" fill="#0c0c0c" fill-opacity="1"/>
</g></g>
<clipPath id="k34"><rect x="1584.9" y="2160.1" width="111.0" height="50.4"/></clipPath>
<rect x="1584.90" y="2160.10" width="111.00" height="50.40" fill="#747474"/>
<g clip-path="url(#k34)"><g filter="url(#bl)">
<rect x="1587.4" y="2164.4" width="47.8" height="42.8" rx="23.9" ry="20.3" fill="#0c0c0c" fill-opacity="1"/>
<rect x="1644.3" y="2172.8" width="38.5" height="24.6" rx="14.8" ry="11.7" fill="#0c0c0c" fill-opacity="0.92"/>
</g></g>
<clipPath id="k35"><rect x="1707.0" y="2160.1" width="110.5" height="50.4"/></clipPath>
<rect x="1707.00" y="2160.10" width="110.50" height="50.40" fill="#797979"/>
<g clip-path="url(#k35)"><g filter="url(#bl)">
<rect x="1714.2" y="2169.4" width="44.7" height="33.2" rx="19.9" ry="15.8" fill="#0c0c0c" fill-opacity="1"/>
<rect x="1780.6" y="2175.7" width="22.9" height="17.1" rx="10.3" ry="8.1" fill="#0c0c0c" fill-opacity="0.8"/>
</g></g>
<clipPath id="k36"><rect x="989.1" y="2222.0" width="109.0" height="52.6"/></clipPath>
<rect x="989.10" y="2222.00" width="109.00" height="52.60" fill="#676767"/>
<g clip-path="url(#k36)"><g filter="url(#bl)">
<rect x="988.2" y="2219.1" width="59.7" height="57.8" rx="29.8" ry="27.4" fill="#0c0c0c" fill-opacity="1"/>
<rect x="1054.5" y="2237.6" width="40.0" height="26.8" rx="16.1" ry="12.7" fill="#0c0c0c" fill-opacity="0.5"/>
</g></g>
<clipPath id="k37"><rect x="1108.9" y="2222.0" width="113.0" height="52.6"/></clipPath>
<rect x="1108.90" y="2222.00" width="113.00" height="52.60" fill="#747474"/>
<g clip-path="url(#k37)"><g filter="url(#bl)">
<rect x="1113.9" y="2230.7" width="56.2" height="39.6" rx="23.8" ry="18.8" fill="#0c0c0c" fill-opacity="1"/>
<rect x="1163.9" y="2230.2" width="56.2" height="38.5" rx="23.1" ry="18.3" fill="#0c0c0c" fill-opacity="1"/>
</g></g>
<clipPath id="k38"><rect x="1233.0" y="2222.0" width="103.4" height="52.6"/></clipPath>
<rect x="1233.00" y="2222.00" width="103.40" height="52.60" fill="#5A5A5A"/>
<g clip-path="url(#k38)"><g filter="url(#bl)">
<rect x="1239.7" y="2236.9" width="38.7" height="22.3" rx="13.4" ry="10.6" fill="#0c0c0c" fill-opacity="0.97"/>
<rect x="1299.0" y="2244.0" width="24.0" height="8.0" rx="4.8" ry="3.8" fill="#0c0c0c" fill-opacity="0.08"/>
</g></g>
<clipPath id="k39"><rect x="1347.5" y="2222.0" width="111.6" height="52.6"/></clipPath>
<rect x="1347.50" y="2222.00" width="111.60" height="52.60" fill="#636363"/>
<g clip-path="url(#k39)"><g filter="url(#bl)">
<rect x="1357.0" y="2237.0" width="43.7" height="27.0" rx="16.2" ry="12.8" fill="#0c0c0c" fill-opacity="0.92"/>
<rect x="1401.7" y="2234.3" width="52.6" height="27.8" rx="16.7" ry="13.2" fill="#0c0c0c" fill-opacity="0.92"/>
</g></g>
<clipPath id="k40"><rect x="1470.4" y="2222.0" width="103.1" height="52.6"/></clipPath>
<rect x="1470.40" y="2222.00" width="103.10" height="52.60" fill="#6C6C6C"/>
<g clip-path="url(#k40)"><g filter="url(#bl)">
<rect x="1476.1" y="2225.5" width="45.8" height="39.6" rx="22.9" ry="18.8" fill="#0c0c0c" fill-opacity="0.97"/>
<rect x="1539.4" y="2232.2" width="10.0" height="20.0" rx="5.0" ry="9.5" fill="#0c0c0c" fill-opacity="0.2"/>
</g></g>
<clipPath id="k41"><rect x="1584.9" y="2222.0" width="111.0" height="52.6"/></clipPath>
<rect x="1584.90" y="2222.00" width="111.00" height="52.60" fill="#747474"/>
<g clip-path="url(#k41)"><g filter="url(#bl)">
<rect x="1591.6" y="2230.2" width="48.9" height="31.7" rx="19.0" ry="15.0" fill="#0c0c0c" fill-opacity="0.97"/>
<rect x="1642.1" y="2232.7" width="48.9" height="31.7" rx="19.0" ry="15.0" fill="#0c0c0c" fill-opacity="0.93"/>
</g></g>
<clipPath id="k42"><rect x="1707.0" y="2222.0" width="110.5" height="52.6"/></clipPath>
<rect x="1707.00" y="2222.00" width="110.50" height="52.60" fill="#6C6C6C"/>
<g clip-path="url(#k42)"><g filter="url(#bl)">
<rect x="1711.6" y="2232.5" width="46.0" height="30.0" rx="18.0" ry="14.2" fill="#0c0c0c" fill-opacity="0.7"/>
<rect x="1770.8" y="2234.7" width="44.0" height="22.0" rx="13.2" ry="10.4" fill="#0c0c0c" fill-opacity="0.32"/>
</g></g>
<clipPath id="k43"><rect x="989.1" y="2288.7" width="109.0" height="53.9"/></clipPath>
<rect x="989.10" y="2288.70" width="109.00" height="53.90" fill="#797979"/>
<g clip-path="url(#k43)"><g filter="url(#bl)">
<rect x="998.3" y="2310.5" width="35.4" height="15.0" rx="9.0" ry="7.1" fill="#0c0c0c" fill-opacity="0.87"/>
<rect x="1052.0" y="2320.0" width="24.0" height="4.0" rx="2.4" ry="1.9" fill="#0c0c0c" fill-opacity="0.08"/>
</g></g>
<clipPath id="k44"><rect x="1108.9" y="2286.2" width="113.0" height="56.4"/></clipPath>
<rect x="1108.90" y="2286.20" width="113.00" height="56.40" fill="#707070"/>
<g clip-path="url(#k44)"><g filter="url(#bl)">
<rect x="1110.2" y="2300.9" width="56.2" height="34.2" rx="20.5" ry="16.3" fill="#0c0c0c" fill-opacity="1"/>
<rect x="1163.4" y="2296.6" width="58.2" height="39.6" rx="23.8" ry="18.8" fill="#0c0c0c" fill-opacity="1"/>
<rect x="1145.2" y="2303.0" width="41.6" height="30.0" rx="18.0" ry="14.2" fill="#0c0c0c" fill-opacity="1"/>
</g></g>
<clipPath id="k45"><rect x="1233.0" y="2286.2" width="103.4" height="56.4"/></clipPath>
<rect x="1233.00" y="2286.20" width="103.40" height="56.40" fill="#707070"/>
<g clip-path="url(#k45)"><g filter="url(#bl)">
<rect x="1234.6" y="2301.4" width="52.0" height="33.2" rx="19.9" ry="15.8" fill="#0c0c0c" fill-opacity="1"/>
<rect x="1289.3" y="2303.4" width="47.8" height="32.1" rx="19.3" ry="15.2" fill="#0c0c0c" fill-opacity="0.97"/>
<rect x="1274.5" y="2307.2" width="25.0" height="25.7" rx="12.5" ry="12.2" fill="#0c0c0c" fill-opacity="0.95"/>
</g></g>
<clipPath id="k46"><rect x="1347.5" y="2286.2" width="111.6" height="56.4"/></clipPath>
<rect x="1347.50" y="2286.20" width="111.60" height="56.40" fill="#707070"/>
<g clip-path="url(#k46)"><g filter="url(#bl)">
<rect x="1350.6" y="2297.3" width="45.8" height="34.2" rx="20.5" ry="16.3" fill="#0c0c0c" fill-opacity="0.8"/>
<rect x="1411.4" y="2300.4" width="44.0" height="28.0" rx="16.8" ry="13.3" fill="#0c0c0c" fill-opacity="0.78"/>
</g></g>
<clipPath id="k47"><rect x="1470.4" y="2286.2" width="103.1" height="56.4"/></clipPath>
<rect x="1470.40" y="2286.20" width="103.10" height="56.40" fill="#6C6C6C"/>
<g clip-path="url(#k47)"><g filter="url(#bl)">
<rect x="1476.8" y="2303.7" width="40.0" height="32.0" rx="19.2" ry="15.2" fill="#0c0c0c" fill-opacity="0.65"/>
<rect x="1528.5" y="2300.4" width="45.8" height="38.5" rx="22.9" ry="18.3" fill="#0c0c0c" fill-opacity="0.85"/>
</g></g>
<clipPath id="k48"><rect x="1584.9" y="2288.7" width="111.0" height="53.9"/></clipPath>
<rect x="1584.90" y="2288.70" width="111.00" height="53.90" fill="#797979"/>
<g clip-path="url(#k48)"><g filter="url(#bl)">
<rect x="1584.0" y="2297.3" width="58.2" height="34.2" rx="20.5" ry="16.3" fill="#0c0c0c" fill-opacity="1"/>
<rect x="1641.4" y="2293.4" width="56.2" height="38.5" rx="23.1" ry="18.3" fill="#0c0c0c" fill-opacity="1"/>
<rect x="1626.4" y="2301.1" width="29.1" height="27.8" rx="14.6" ry="13.2" fill="#0c0c0c" fill-opacity="1"/>
</g></g>
<clipPath id="k49"><rect x="1707.0" y="2286.2" width="110.5" height="56.4"/></clipPath>
<rect x="1707.00" y="2286.20" width="110.50" height="56.40" fill="#676767"/>
<g clip-path="url(#k49)"><g filter="url(#bl)">
<rect x="1706.2" y="2292.7" width="60.3" height="47.1" rx="28.2" ry="22.4" fill="#0c0c0c" fill-opacity="1"/>
<rect x="1762.9" y="2294.5" width="56.2" height="47.1" rx="28.1" ry="22.4" fill="#0c0c0c" fill-opacity="1"/>
</g></g>
<clipPath id="k50"><rect x="989.1" y="2354.2" width="109.0" height="55.3"/></clipPath>
<rect x="989.10" y="2354.20" width="109.00" height="55.30" fill="#7D7D7D"/>
<g clip-path="url(#k50)"><g filter="url(#bl)">
<rect x="992.1" y="2355.2" width="47.8" height="55.6" rx="23.9" ry="26.4" fill="#0c0c0c" fill-opacity="1"/>
<rect x="1044.8" y="2359.4" width="41.6" height="49.2" rx="20.8" ry="23.4" fill="#0c0c0c" fill-opacity="1"/>
</g></g>
<clipPath id="k51"><rect x="1108.9" y="2354.2" width="113.0" height="55.3"/></clipPath>
<rect x="1108.90" y="2354.20" width="113.00" height="55.30" fill="#747474"/>
<g clip-path="url(#k51)"><g filter="url(#bl)">
<rect x="1116.0" y="2359.7" width="47.8" height="38.5" rx="23.1" ry="18.3" fill="#0c0c0c" fill-opacity="0.97"/>
<rect x="1171.0" y="2354.9" width="52.0" height="53.5" rx="26.0" ry="25.4" fill="#0c0c0c" fill-opacity="1"/>
</g></g>
<clipPath id="k52"><rect x="1233.0" y="2354.2" width="103.4" height="55.3"/></clipPath>
<rect x="1233.00" y="2354.20" width="103.40" height="55.30" fill="#797979"/>
<g clip-path="url(#k52)"><g filter="url(#bl)">
<rect x="1232.5" y="2354.9" width="54.1" height="53.5" rx="27.0" ry="25.4" fill="#0c0c0c" fill-opacity="1"/>
<rect x="1286.0" y="2356.3" width="49.9" height="51.4" rx="25.0" ry="24.4" fill="#0c0c0c" fill-opacity="1"/>
</g></g>
<clipPath id="k53"><rect x="1347.5" y="2354.2" width="111.6" height="55.3"/></clipPath>
<rect x="1347.50" y="2354.20" width="111.60" height="55.30" fill="#797979"/>
<g clip-path="url(#k53)"><g filter="url(#bl)">
<rect x="1347.8" y="2372.9" width="47.8" height="20.3" rx="12.2" ry="9.7" fill="#0c0c0c" fill-opacity="0.87"/>
<rect x="1404.9" y="2370.6" width="49.9" height="23.5" rx="14.1" ry="11.2" fill="#0c0c0c" fill-opacity="0.92"/>
</g></g>
<clipPath id="k54"><rect x="1470.4" y="2354.2" width="103.1" height="55.3"/></clipPath>
<rect x="1470.40" y="2354.20" width="103.10" height="55.30" fill="#797979"/>
<g clip-path="url(#k54)"><g filter="url(#bl)">
<rect x="1470.8" y="2364.6" width="52.0" height="30.0" rx="18.0" ry="14.2" fill="#0c0c0c" fill-opacity="1"/>
<rect x="1527.9" y="2362.2" width="43.7" height="27.8" rx="16.7" ry="13.2" fill="#0c0c0c" fill-opacity="1"/>
</g></g>
<clipPath id="k55"><rect x="1584.9" y="2354.2" width="111.0" height="55.3"/></clipPath>
<rect x="1584.90" y="2354.20" width="111.00" height="55.30" fill="#797979"/>
<g clip-path="url(#k55)"><g filter="url(#bl)">
<rect x="1589.5" y="2366.8" width="43.7" height="25.7" rx="15.4" ry="12.2" fill="#0c0c0c" fill-opacity="0.92"/>
<rect x="1642.4" y="2367.5" width="43.7" height="27.8" rx="16.7" ry="13.2" fill="#0c0c0c" fill-opacity="0.88"/>
</g></g>
<clipPath id="k56"><rect x="1707.0" y="2354.2" width="110.5" height="55.3"/></clipPath>
<rect x="1707.00" y="2354.20" width="110.50" height="55.30" fill="#818181"/>
<g clip-path="url(#k56)"><g filter="url(#bl)">
<rect x="1713.8" y="2373.8" width="41.6" height="17.1" rx="10.3" ry="8.1" fill="#0c0c0c" fill-opacity="0.82"/>
<rect x="1765.0" y="2371.8" width="43.7" height="19.3" rx="11.6" ry="9.1" fill="#0c0c0c" fill-opacity="0.87"/>
</g></g>
<clipPath id="k57"><rect x="989.1" y="2420.8" width="109.0" height="54.1"/></clipPath>
<rect x="989.10" y="2420.80" width="109.00" height="54.10" fill="#707070"/>
<g clip-path="url(#k57)"><g filter="url(#bl)">
<rect x="996.8" y="2442.4" width="47.8" height="17.1" rx="10.3" ry="8.1" fill="#0c0c0c" fill-opacity="1"/>
<rect x="1049.4" y="2442.5" width="41.6" height="15.0" rx="9.0" ry="7.1" fill="#0c0c0c" fill-opacity="1"/>
</g></g>
<clipPath id="k58"><rect x="1108.9" y="2420.8" width="113.0" height="54.1"/></clipPath>
<rect x="1108.90" y="2420.80" width="113.00" height="54.10" fill="#747474"/>
<g clip-path="url(#k58)"><g filter="url(#bl)">
<rect x="1113.9" y="2442.9" width="52.0" height="15.0" rx="9.0" ry="7.1" fill="#0c0c0c" fill-opacity="1"/>
<rect x="1168.0" y="2442.9" width="52.0" height="15.0" rx="9.0" ry="7.1" fill="#0c0c0c" fill-opacity="1"/>
</g></g>
<clipPath id="k59"><rect x="1233.0" y="2420.8" width="103.4" height="54.1"/></clipPath>
<rect x="1233.00" y="2420.80" width="103.40" height="54.10" fill="#747474"/>
<g clip-path="url(#k59)"><g filter="url(#bl)">
<rect x="1235.6" y="2444.2" width="49.9" height="10.7" rx="6.4" ry="5.1" fill="#0c0c0c" fill-opacity="0.97"/>
<rect x="1290.3" y="2444.1" width="45.8" height="9.6" rx="5.8" ry="4.6" fill="#0c0c0c" fill-opacity="0.97"/>
</g></g>
<clipPath id="k60"><rect x="1347.5" y="2420.8" width="111.6" height="54.1"/></clipPath>
<rect x="1347.50" y="2420.80" width="111.60" height="54.10" fill="#747474"/>
<g clip-path="url(#k60)"><g filter="url(#bl)">
<rect x="1355.2" y="2439.7" width="43.7" height="17.1" rx="10.3" ry="8.1" fill="#0c0c0c" fill-opacity="0.97"/>
<rect x="1411.5" y="2441.5" width="41.6" height="15.0" rx="9.0" ry="7.1" fill="#0c0c0c" fill-opacity="0.97"/>
</g></g>
<clipPath id="k61"><rect x="1470.4" y="2420.8" width="103.1" height="54.1"/></clipPath>
<rect x="1470.40" y="2420.80" width="103.10" height="54.10" fill="#6C6C6C"/>
<g clip-path="url(#k61)"><g filter="url(#bl)">
<rect x="1470.8" y="2436.5" width="52.0" height="23.5" rx="14.1" ry="11.2" fill="#0c0c0c" fill-opacity="1"/>
<rect x="1521.9" y="2434.8" width="52.0" height="23.5" rx="14.1" ry="11.2" fill="#0c0c0c" fill-opacity="1"/>
</g></g>
<clipPath id="k62"><rect x="1584.9" y="2420.8" width="111.0" height="54.1"/></clipPath>
<rect x="1584.90" y="2420.80" width="111.00" height="54.10" fill="#5F5F5F"/>
<g clip-path="url(#k62)"><g filter="url(#bl)">
<rect x="1590.2" y="2445.4" width="45.8" height="12.8" rx="7.7" ry="6.1" fill="#0c0c0c" fill-opacity="0.97"/>
<rect x="1642.0" y="2442.6" width="47.8" height="15.0" rx="9.0" ry="7.1" fill="#0c0c0c" fill-opacity="0.97"/>
</g></g>
<clipPath id="k63"><rect x="1707.0" y="2420.8" width="110.5" height="54.1"/></clipPath>
<rect x="1707.00" y="2420.80" width="110.50" height="54.10" fill="#797979"/>
<g clip-path="url(#k63)"><g filter="url(#bl)">
<rect x="1708.6" y="2443.1" width="52.0" height="16.1" rx="9.6" ry="7.6" fill="#0c0c0c" fill-opacity="1"/>
<rect x="1765.4" y="2443.3" width="47.8" height="15.0" rx="9.0" ry="7.1" fill="#0c0c0c" fill-opacity="1"/>
</g></g>
<rect x="989.10" y="2487.20" width="347.30" height="32.00" fill="#F7A6A8"/>
<rect x="1347.50" y="2487.20" width="470.50" height="32.00" fill="#EB2027"/>
<text x="1165.0" y="2513.0" font-size="25" text-anchor="middle" font-weight="bold" fill="#231F20">4</text>
<text x="1575.0" y="2513.0" font-size="25" text-anchor="middle" font-weight="bold" fill="#231F20">5</text>
</svg>
</body></html>
